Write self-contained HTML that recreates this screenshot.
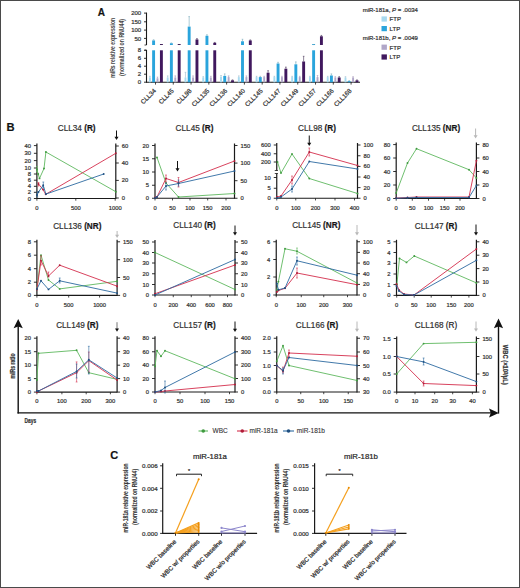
<!DOCTYPE html>
<html><head><meta charset="utf-8"><style>
html,body{margin:0;padding:0;background:#fff;}
body{width:520px;height:588px;overflow:hidden;}
svg{display:block;}
text{font-family:"Liberation Sans", sans-serif;stroke:#333;stroke-width:0.22px;}
</style></head><body>
<svg width="520" height="588" viewBox="0 0 520 588">
<rect x="0" y="0" width="520" height="588" fill="#fff"/>
<text x="97.80" y="15.80" font-size="10" text-anchor="start" font-weight="bold" fill="#111" >A</text>
<text x="0" y="0" font-size="7.0" font-weight="bold" fill="#444" style="stroke-width:0" text-anchor="middle" textLength="60" lengthAdjust="spacingAndGlyphs" transform="translate(114.6,47.8) rotate(-90)">miRs relative expression</text>
<text x="0" y="0" font-size="7.0" font-weight="bold" fill="#444" style="stroke-width:0" text-anchor="middle" textLength="57" lengthAdjust="spacingAndGlyphs" transform="translate(124.4,47.4) rotate(-90)">(normalized on RNU44)</text>
<line x1="146.50" y1="12.60" x2="146.50" y2="45.00" stroke="#1a1a1a" stroke-width="1.1" />
<line x1="146.50" y1="50.00" x2="146.50" y2="82.80" stroke="#1a1a1a" stroke-width="1.1" />
<line x1="144.50" y1="45.00" x2="146.50" y2="45.00" stroke="#1a1a1a" stroke-width="0.8" />
<line x1="144.50" y1="50.00" x2="146.50" y2="50.00" stroke="#1a1a1a" stroke-width="0.8" />
<line x1="144.00" y1="13.10" x2="146.50" y2="13.10" stroke="#1a1a1a" stroke-width="0.9" />
<text x="141.20" y="15.20" font-size="6.0" text-anchor="end" font-weight="normal" fill="#333" >200</text>
<line x1="144.00" y1="21.80" x2="146.50" y2="21.80" stroke="#1a1a1a" stroke-width="0.9" />
<text x="141.20" y="23.90" font-size="6.0" text-anchor="end" font-weight="normal" fill="#333" >150</text>
<line x1="144.00" y1="30.10" x2="146.50" y2="30.10" stroke="#1a1a1a" stroke-width="0.9" />
<text x="141.20" y="32.20" font-size="6.0" text-anchor="end" font-weight="normal" fill="#333" >100</text>
<line x1="144.00" y1="38.40" x2="146.50" y2="38.40" stroke="#1a1a1a" stroke-width="0.9" />
<text x="141.20" y="40.50" font-size="6.0" text-anchor="end" font-weight="normal" fill="#333" >50</text>
<line x1="144.00" y1="50.30" x2="146.50" y2="50.30" stroke="#1a1a1a" stroke-width="0.9" />
<text x="141.20" y="52.40" font-size="6.0" text-anchor="end" font-weight="normal" fill="#333" >8</text>
<line x1="144.00" y1="58.30" x2="146.50" y2="58.30" stroke="#1a1a1a" stroke-width="0.9" />
<text x="141.20" y="60.40" font-size="6.0" text-anchor="end" font-weight="normal" fill="#333" >6</text>
<line x1="144.00" y1="66.20" x2="146.50" y2="66.20" stroke="#1a1a1a" stroke-width="0.9" />
<text x="141.20" y="68.30" font-size="6.0" text-anchor="end" font-weight="normal" fill="#333" >4</text>
<line x1="144.00" y1="74.20" x2="146.50" y2="74.20" stroke="#1a1a1a" stroke-width="0.9" />
<text x="141.20" y="76.30" font-size="6.0" text-anchor="end" font-weight="normal" fill="#333" >2</text>
<line x1="144.00" y1="82.20" x2="146.50" y2="82.20" stroke="#1a1a1a" stroke-width="0.9" />
<text x="141.20" y="84.30" font-size="6.0" text-anchor="end" font-weight="normal" fill="#333" >0</text>
<line x1="146.50" y1="82.30" x2="360.00" y2="82.30" stroke="#1a1a1a" stroke-width="1.1" />
<rect x="148.95" y="77.50" width="1.90" height="4.80" fill="#a8daf0"/>
<line x1="149.90" y1="77.50" x2="149.90" y2="76.30" stroke="#9bc" stroke-width="0.6" />
<line x1="149.10" y1="76.30" x2="150.70" y2="76.30" stroke="#9bc" stroke-width="0.6" />
<rect x="152.15" y="50.30" width="2.90" height="32.00" fill="#2aa4dc"/>
<rect x="152.15" y="40.43" width="2.90" height="4.57" fill="#2aa4dc"/>
<line x1="153.60" y1="40.43" x2="153.60" y2="39.77" stroke="#7ab" stroke-width="0.6" />
<line x1="152.80" y1="39.77" x2="154.40" y2="39.77" stroke="#7ab" stroke-width="0.6" />
<rect x="156.55" y="78.30" width="1.90" height="4.00" fill="#b0a6c8"/>
<line x1="157.50" y1="78.30" x2="157.50" y2="77.10" stroke="#a9b" stroke-width="0.6" />
<line x1="156.70" y1="77.10" x2="158.30" y2="77.10" stroke="#a9b" stroke-width="0.6" />
<rect x="159.95" y="50.30" width="2.90" height="32.00" fill="#40185e"/>
<rect x="159.95" y="44.00" width="2.90" height="1.00" fill="#40185e"/>
<line x1="161.40" y1="44.00" x2="161.40" y2="44.52" stroke="#435" stroke-width="0.6" />
<line x1="160.60" y1="44.52" x2="162.20" y2="44.52" stroke="#435" stroke-width="0.6" />
<line x1="155.50" y1="82.30" x2="155.50" y2="84.60" stroke="#1a1a1a" stroke-width="0.8" />
<text x="0" y="0" font-size="6.3" fill="#333" text-anchor="end" transform="translate(156.50,91.30) rotate(-45)">CLL34</text>
<rect x="166.73" y="77.50" width="1.90" height="4.80" fill="#a8daf0"/>
<line x1="167.68" y1="77.50" x2="167.68" y2="75.90" stroke="#9bc" stroke-width="0.6" />
<line x1="166.88" y1="75.90" x2="168.48" y2="75.90" stroke="#9bc" stroke-width="0.6" />
<rect x="169.93" y="50.30" width="2.90" height="32.00" fill="#2aa4dc"/>
<rect x="169.93" y="43.27" width="2.90" height="1.73" fill="#2aa4dc"/>
<line x1="171.38" y1="43.27" x2="171.38" y2="42.93" stroke="#7ab" stroke-width="0.6" />
<line x1="170.58" y1="42.93" x2="172.18" y2="42.93" stroke="#7ab" stroke-width="0.6" />
<rect x="174.33" y="77.50" width="1.90" height="4.80" fill="#b0a6c8"/>
<line x1="175.28" y1="77.50" x2="175.28" y2="75.90" stroke="#a9b" stroke-width="0.6" />
<line x1="174.48" y1="75.90" x2="176.08" y2="75.90" stroke="#a9b" stroke-width="0.6" />
<rect x="177.73" y="50.30" width="2.90" height="32.00" fill="#40185e"/>
<rect x="177.73" y="44.00" width="2.90" height="1.00" fill="#40185e"/>
<line x1="179.18" y1="44.00" x2="179.18" y2="44.52" stroke="#435" stroke-width="0.6" />
<line x1="178.38" y1="44.52" x2="179.98" y2="44.52" stroke="#435" stroke-width="0.6" />
<line x1="173.28" y1="82.30" x2="173.28" y2="84.60" stroke="#1a1a1a" stroke-width="0.8" />
<text x="0" y="0" font-size="6.3" fill="#333" text-anchor="end" transform="translate(174.28,91.30) rotate(-45)">CLL45</text>
<rect x="184.51" y="77.50" width="1.90" height="4.80" fill="#a8daf0"/>
<line x1="185.46" y1="77.50" x2="185.46" y2="72.30" stroke="#9bc" stroke-width="0.6" />
<line x1="184.66" y1="72.30" x2="186.26" y2="72.30" stroke="#9bc" stroke-width="0.6" />
<rect x="187.71" y="50.30" width="2.90" height="32.00" fill="#2aa4dc"/>
<rect x="187.71" y="26.60" width="2.90" height="18.40" fill="#2aa4dc"/>
<line x1="189.16" y1="26.60" x2="189.16" y2="16.60" stroke="#7ab" stroke-width="0.6" />
<line x1="188.36" y1="16.60" x2="189.96" y2="16.60" stroke="#7ab" stroke-width="0.6" />
<rect x="192.11" y="77.50" width="1.90" height="4.80" fill="#b0a6c8"/>
<line x1="193.06" y1="77.50" x2="193.06" y2="75.90" stroke="#a9b" stroke-width="0.6" />
<line x1="192.26" y1="75.90" x2="193.86" y2="75.90" stroke="#a9b" stroke-width="0.6" />
<rect x="195.51" y="50.30" width="2.90" height="32.00" fill="#40185e"/>
<rect x="195.51" y="39.43" width="2.90" height="5.57" fill="#40185e"/>
<line x1="196.96" y1="39.43" x2="196.96" y2="38.60" stroke="#435" stroke-width="0.6" />
<line x1="196.16" y1="38.60" x2="197.76" y2="38.60" stroke="#435" stroke-width="0.6" />
<line x1="191.06" y1="82.30" x2="191.06" y2="84.60" stroke="#1a1a1a" stroke-width="0.8" />
<text x="0" y="0" font-size="6.3" fill="#333" text-anchor="end" transform="translate(192.06,91.30) rotate(-45)">CLL98</text>
<rect x="202.29" y="77.50" width="1.90" height="4.80" fill="#a8daf0"/>
<line x1="203.24" y1="77.50" x2="203.24" y2="76.70" stroke="#9bc" stroke-width="0.6" />
<line x1="202.44" y1="76.70" x2="204.04" y2="76.70" stroke="#9bc" stroke-width="0.6" />
<rect x="205.49" y="50.30" width="2.90" height="32.00" fill="#2aa4dc"/>
<rect x="205.49" y="35.77" width="2.90" height="9.23" fill="#2aa4dc"/>
<line x1="206.94" y1="35.77" x2="206.94" y2="34.77" stroke="#7ab" stroke-width="0.6" />
<line x1="206.14" y1="34.77" x2="207.74" y2="34.77" stroke="#7ab" stroke-width="0.6" />
<rect x="209.89" y="77.50" width="1.90" height="4.80" fill="#b0a6c8"/>
<line x1="210.84" y1="77.50" x2="210.84" y2="76.30" stroke="#a9b" stroke-width="0.6" />
<line x1="210.04" y1="76.30" x2="211.64" y2="76.30" stroke="#a9b" stroke-width="0.6" />
<rect x="213.29" y="50.30" width="2.90" height="32.00" fill="#40185e"/>
<rect x="213.29" y="42.77" width="2.90" height="2.23" fill="#40185e"/>
<line x1="214.74" y1="42.77" x2="214.74" y2="42.43" stroke="#435" stroke-width="0.6" />
<line x1="213.94" y1="42.43" x2="215.54" y2="42.43" stroke="#435" stroke-width="0.6" />
<line x1="208.84" y1="82.30" x2="208.84" y2="84.60" stroke="#1a1a1a" stroke-width="0.8" />
<text x="0" y="0" font-size="6.3" fill="#333" text-anchor="end" transform="translate(209.84,91.30) rotate(-45)">CLL135</text>
<rect x="220.07" y="76.70" width="1.90" height="5.60" fill="#a8daf0"/>
<line x1="221.02" y1="76.70" x2="221.02" y2="75.50" stroke="#9bc" stroke-width="0.6" />
<line x1="220.22" y1="75.50" x2="221.82" y2="75.50" stroke="#9bc" stroke-width="0.6" />
<rect x="223.27" y="75.90" width="2.90" height="6.40" fill="#2aa4dc"/>
<line x1="224.72" y1="75.90" x2="224.72" y2="73.90" stroke="#7ab" stroke-width="0.6" />
<line x1="223.92" y1="73.90" x2="225.52" y2="73.90" stroke="#7ab" stroke-width="0.6" />
<rect x="227.67" y="77.10" width="1.90" height="5.20" fill="#b0a6c8"/>
<line x1="228.62" y1="77.10" x2="228.62" y2="75.90" stroke="#a9b" stroke-width="0.6" />
<line x1="227.82" y1="75.90" x2="229.42" y2="75.90" stroke="#a9b" stroke-width="0.6" />
<rect x="231.07" y="80.30" width="2.90" height="2.00" fill="#40185e"/>
<line x1="232.52" y1="80.30" x2="232.52" y2="79.90" stroke="#435" stroke-width="0.6" />
<line x1="231.72" y1="79.90" x2="233.32" y2="79.90" stroke="#435" stroke-width="0.6" />
<line x1="226.62" y1="82.30" x2="226.62" y2="84.60" stroke="#1a1a1a" stroke-width="0.8" />
<text x="0" y="0" font-size="6.3" fill="#333" text-anchor="end" transform="translate(227.62,91.30) rotate(-45)">CLL136</text>
<rect x="237.85" y="77.10" width="1.90" height="5.20" fill="#a8daf0"/>
<line x1="238.80" y1="77.10" x2="238.80" y2="75.90" stroke="#9bc" stroke-width="0.6" />
<line x1="238.00" y1="75.90" x2="239.60" y2="75.90" stroke="#9bc" stroke-width="0.6" />
<rect x="241.05" y="50.30" width="2.90" height="32.00" fill="#2aa4dc"/>
<rect x="241.05" y="41.27" width="2.90" height="3.73" fill="#2aa4dc"/>
<line x1="242.50" y1="41.27" x2="242.50" y2="39.27" stroke="#7ab" stroke-width="0.6" />
<line x1="241.70" y1="39.27" x2="243.30" y2="39.27" stroke="#7ab" stroke-width="0.6" />
<rect x="245.45" y="77.10" width="1.90" height="5.20" fill="#b0a6c8"/>
<line x1="246.40" y1="77.10" x2="246.40" y2="75.90" stroke="#a9b" stroke-width="0.6" />
<line x1="245.60" y1="75.90" x2="247.20" y2="75.90" stroke="#a9b" stroke-width="0.6" />
<rect x="248.85" y="50.30" width="2.90" height="32.00" fill="#40185e"/>
<rect x="248.85" y="40.43" width="2.90" height="4.57" fill="#40185e"/>
<line x1="250.30" y1="40.43" x2="250.30" y2="39.93" stroke="#435" stroke-width="0.6" />
<line x1="249.50" y1="39.93" x2="251.10" y2="39.93" stroke="#435" stroke-width="0.6" />
<line x1="244.40" y1="82.30" x2="244.40" y2="84.60" stroke="#1a1a1a" stroke-width="0.8" />
<text x="0" y="0" font-size="6.3" fill="#333" text-anchor="end" transform="translate(245.40,91.30) rotate(-45)">CLL140</text>
<rect x="255.63" y="77.10" width="1.90" height="5.20" fill="#a8daf0"/>
<line x1="256.58" y1="77.10" x2="256.58" y2="76.30" stroke="#9bc" stroke-width="0.6" />
<line x1="255.78" y1="76.30" x2="257.38" y2="76.30" stroke="#9bc" stroke-width="0.6" />
<rect x="258.83" y="77.10" width="2.90" height="5.20" fill="#2aa4dc"/>
<line x1="260.28" y1="77.10" x2="260.28" y2="76.30" stroke="#7ab" stroke-width="0.6" />
<line x1="259.48" y1="76.30" x2="261.08" y2="76.30" stroke="#7ab" stroke-width="0.6" />
<rect x="263.23" y="77.10" width="1.90" height="5.20" fill="#b0a6c8"/>
<line x1="264.18" y1="77.10" x2="264.18" y2="76.30" stroke="#a9b" stroke-width="0.6" />
<line x1="263.38" y1="76.30" x2="264.98" y2="76.30" stroke="#a9b" stroke-width="0.6" />
<rect x="266.63" y="72.70" width="2.90" height="9.60" fill="#40185e"/>
<line x1="268.08" y1="72.70" x2="268.08" y2="70.70" stroke="#435" stroke-width="0.6" />
<line x1="267.28" y1="70.70" x2="268.88" y2="70.70" stroke="#435" stroke-width="0.6" />
<line x1="262.18" y1="82.30" x2="262.18" y2="84.60" stroke="#1a1a1a" stroke-width="0.8" />
<text x="0" y="0" font-size="6.3" fill="#333" text-anchor="end" transform="translate(263.18,91.30) rotate(-45)">CLL145</text>
<rect x="273.41" y="77.10" width="1.90" height="5.20" fill="#a8daf0"/>
<line x1="274.36" y1="77.10" x2="274.36" y2="76.30" stroke="#9bc" stroke-width="0.6" />
<line x1="273.56" y1="76.30" x2="275.16" y2="76.30" stroke="#9bc" stroke-width="0.6" />
<rect x="276.61" y="63.50" width="2.90" height="18.80" fill="#2aa4dc"/>
<line x1="278.06" y1="63.50" x2="278.06" y2="62.30" stroke="#7ab" stroke-width="0.6" />
<line x1="277.26" y1="62.30" x2="278.86" y2="62.30" stroke="#7ab" stroke-width="0.6" />
<rect x="281.01" y="77.10" width="1.90" height="5.20" fill="#b0a6c8"/>
<line x1="281.96" y1="77.10" x2="281.96" y2="76.30" stroke="#a9b" stroke-width="0.6" />
<line x1="281.16" y1="76.30" x2="282.76" y2="76.30" stroke="#a9b" stroke-width="0.6" />
<rect x="284.41" y="68.70" width="2.90" height="13.60" fill="#40185e"/>
<line x1="285.86" y1="68.70" x2="285.86" y2="67.10" stroke="#435" stroke-width="0.6" />
<line x1="285.06" y1="67.10" x2="286.66" y2="67.10" stroke="#435" stroke-width="0.6" />
<line x1="279.96" y1="82.30" x2="279.96" y2="84.60" stroke="#1a1a1a" stroke-width="0.8" />
<text x="0" y="0" font-size="6.3" fill="#333" text-anchor="end" transform="translate(280.96,91.30) rotate(-45)">CLL147</text>
<rect x="291.19" y="77.10" width="1.90" height="5.20" fill="#a8daf0"/>
<line x1="292.14" y1="77.10" x2="292.14" y2="76.30" stroke="#9bc" stroke-width="0.6" />
<line x1="291.34" y1="76.30" x2="292.94" y2="76.30" stroke="#9bc" stroke-width="0.6" />
<rect x="294.39" y="64.30" width="2.90" height="18.00" fill="#2aa4dc"/>
<line x1="295.84" y1="64.30" x2="295.84" y2="61.90" stroke="#7ab" stroke-width="0.6" />
<line x1="295.04" y1="61.90" x2="296.64" y2="61.90" stroke="#7ab" stroke-width="0.6" />
<rect x="298.79" y="77.10" width="1.90" height="5.20" fill="#b0a6c8"/>
<line x1="299.74" y1="77.10" x2="299.74" y2="76.30" stroke="#a9b" stroke-width="0.6" />
<line x1="298.94" y1="76.30" x2="300.54" y2="76.30" stroke="#a9b" stroke-width="0.6" />
<rect x="302.19" y="61.50" width="2.90" height="20.80" fill="#40185e"/>
<line x1="303.64" y1="61.50" x2="303.64" y2="56.30" stroke="#435" stroke-width="0.6" />
<line x1="302.84" y1="56.30" x2="304.44" y2="56.30" stroke="#435" stroke-width="0.6" />
<line x1="297.74" y1="82.30" x2="297.74" y2="84.60" stroke="#1a1a1a" stroke-width="0.8" />
<text x="0" y="0" font-size="6.3" fill="#333" text-anchor="end" transform="translate(298.74,91.30) rotate(-45)">CLL149</text>
<rect x="308.97" y="77.10" width="1.90" height="5.20" fill="#a8daf0"/>
<line x1="309.92" y1="77.10" x2="309.92" y2="76.30" stroke="#9bc" stroke-width="0.6" />
<line x1="309.12" y1="76.30" x2="310.72" y2="76.30" stroke="#9bc" stroke-width="0.6" />
<rect x="312.17" y="50.30" width="2.90" height="32.00" fill="#2aa4dc"/>
<rect x="312.17" y="44.00" width="2.90" height="1.00" fill="#2aa4dc"/>
<line x1="313.62" y1="44.00" x2="313.62" y2="44.60" stroke="#7ab" stroke-width="0.6" />
<line x1="312.82" y1="44.60" x2="314.42" y2="44.60" stroke="#7ab" stroke-width="0.6" />
<rect x="316.57" y="77.10" width="1.90" height="5.20" fill="#b0a6c8"/>
<line x1="317.52" y1="77.10" x2="317.52" y2="75.50" stroke="#a9b" stroke-width="0.6" />
<line x1="316.72" y1="75.50" x2="318.32" y2="75.50" stroke="#a9b" stroke-width="0.6" />
<rect x="319.97" y="50.30" width="2.90" height="32.00" fill="#40185e"/>
<rect x="319.97" y="36.27" width="2.90" height="8.73" fill="#40185e"/>
<line x1="321.42" y1="36.27" x2="321.42" y2="35.43" stroke="#435" stroke-width="0.6" />
<line x1="320.62" y1="35.43" x2="322.22" y2="35.43" stroke="#435" stroke-width="0.6" />
<line x1="315.52" y1="82.30" x2="315.52" y2="84.60" stroke="#1a1a1a" stroke-width="0.8" />
<text x="0" y="0" font-size="6.3" fill="#333" text-anchor="end" transform="translate(316.52,91.30) rotate(-45)">CLL157</text>
<rect x="326.75" y="77.10" width="1.90" height="5.20" fill="#a8daf0"/>
<line x1="327.70" y1="77.10" x2="327.70" y2="76.30" stroke="#9bc" stroke-width="0.6" />
<line x1="326.90" y1="76.30" x2="328.50" y2="76.30" stroke="#9bc" stroke-width="0.6" />
<rect x="329.95" y="75.50" width="2.90" height="6.80" fill="#2aa4dc"/>
<line x1="331.40" y1="75.50" x2="331.40" y2="73.90" stroke="#7ab" stroke-width="0.6" />
<line x1="330.60" y1="73.90" x2="332.20" y2="73.90" stroke="#7ab" stroke-width="0.6" />
<rect x="334.35" y="77.50" width="1.90" height="4.80" fill="#b0a6c8"/>
<line x1="335.30" y1="77.50" x2="335.30" y2="76.70" stroke="#a9b" stroke-width="0.6" />
<line x1="334.50" y1="76.70" x2="336.10" y2="76.70" stroke="#a9b" stroke-width="0.6" />
<rect x="337.75" y="77.50" width="2.90" height="4.80" fill="#40185e"/>
<line x1="339.20" y1="77.50" x2="339.20" y2="76.70" stroke="#435" stroke-width="0.6" />
<line x1="338.40" y1="76.70" x2="340.00" y2="76.70" stroke="#435" stroke-width="0.6" />
<line x1="333.30" y1="82.30" x2="333.30" y2="84.60" stroke="#1a1a1a" stroke-width="0.8" />
<text x="0" y="0" font-size="6.3" fill="#333" text-anchor="end" transform="translate(334.30,91.30) rotate(-45)">CLL166</text>
<rect x="344.53" y="77.50" width="1.90" height="4.80" fill="#a8daf0"/>
<line x1="345.48" y1="77.50" x2="345.48" y2="76.70" stroke="#9bc" stroke-width="0.6" />
<line x1="344.68" y1="76.70" x2="346.28" y2="76.70" stroke="#9bc" stroke-width="0.6" />
<rect x="347.73" y="81.10" width="2.90" height="1.20" fill="#2aa4dc"/>
<line x1="349.18" y1="81.10" x2="349.18" y2="80.70" stroke="#7ab" stroke-width="0.6" />
<line x1="348.38" y1="80.70" x2="349.98" y2="80.70" stroke="#7ab" stroke-width="0.6" />
<rect x="352.13" y="77.50" width="1.90" height="4.80" fill="#b0a6c8"/>
<line x1="353.08" y1="77.50" x2="353.08" y2="76.70" stroke="#a9b" stroke-width="0.6" />
<line x1="352.28" y1="76.70" x2="353.88" y2="76.70" stroke="#a9b" stroke-width="0.6" />
<rect x="355.53" y="80.30" width="2.90" height="2.00" fill="#40185e"/>
<line x1="356.98" y1="80.30" x2="356.98" y2="79.90" stroke="#435" stroke-width="0.6" />
<line x1="356.18" y1="79.90" x2="357.78" y2="79.90" stroke="#435" stroke-width="0.6" />
<line x1="351.08" y1="82.30" x2="351.08" y2="84.60" stroke="#1a1a1a" stroke-width="0.8" />
<text x="0" y="0" font-size="6.3" fill="#333" text-anchor="end" transform="translate(352.08,91.30) rotate(-45)">CLL168</text>
<text x="362.70" y="12.00" font-size="6.0" text-anchor="start" font-weight="normal" fill="#333" >miR-181a, <tspan font-style="italic">P</tspan> = .0034</text>
<rect x="381.50" y="16.40" width="5.40" height="5.20" fill="#a8daf0"/>
<text x="389.60" y="21.30" font-size="6.0" text-anchor="start" font-weight="normal" fill="#333" >FTP</text>
<rect x="381.50" y="26.00" width="5.40" height="5.20" fill="#2aa4dc"/>
<text x="389.60" y="30.90" font-size="6.0" text-anchor="start" font-weight="normal" fill="#333" >LTP</text>
<text x="362.70" y="40.30" font-size="6.0" text-anchor="start" font-weight="normal" fill="#333" >miR-181b, <tspan font-style="italic">P</tspan> = .0049</text>
<rect x="381.50" y="44.60" width="5.40" height="5.20" fill="#b0a6c8"/>
<text x="389.60" y="49.50" font-size="6.0" text-anchor="start" font-weight="normal" fill="#333" >FTP</text>
<rect x="381.50" y="54.40" width="5.40" height="5.20" fill="#40185e"/>
<text x="389.60" y="59.30" font-size="6.0" text-anchor="start" font-weight="normal" fill="#333" >LTP</text>
<text x="6.60" y="131.30" font-size="11.2" text-anchor="start" font-weight="bold" fill="#111" >B</text>
<text x="76.70" y="130.80" font-size="8.2" text-anchor="middle" fill="#333" style="stroke-width:0.2px">CLL34 <tspan font-weight="bold" fill="#111">(R)</tspan></text>
<line x1="36.90" y1="143.60" x2="36.90" y2="199.00" stroke="#1a1a1a" stroke-width="1.2" />
<line x1="115.80" y1="143.60" x2="115.80" y2="199.00" stroke="#1a1a1a" stroke-width="1.2" />
<line x1="36.90" y1="198.50" x2="115.80" y2="198.50" stroke="#1a1a1a" stroke-width="1.2" />
<line x1="33.90" y1="145.60" x2="36.90" y2="145.60" stroke="#1a1a1a" stroke-width="0.9" />
<text x="30.90" y="147.65" font-size="5.8" text-anchor="end" font-weight="normal" fill="#333" >40</text>
<line x1="33.90" y1="153.30" x2="36.90" y2="153.30" stroke="#1a1a1a" stroke-width="0.9" />
<text x="30.90" y="155.35" font-size="5.8" text-anchor="end" font-weight="normal" fill="#333" >30</text>
<line x1="33.90" y1="160.60" x2="36.90" y2="160.60" stroke="#1a1a1a" stroke-width="0.9" />
<text x="30.90" y="162.65" font-size="5.8" text-anchor="end" font-weight="normal" fill="#333" >20</text>
<line x1="33.90" y1="168.00" x2="36.90" y2="168.00" stroke="#1a1a1a" stroke-width="0.9" />
<text x="30.90" y="170.05" font-size="5.8" text-anchor="end" font-weight="normal" fill="#333" >10</text>
<line x1="33.90" y1="174.00" x2="36.90" y2="174.00" stroke="#1a1a1a" stroke-width="0.9" />
<text x="30.90" y="176.05" font-size="5.8" text-anchor="end" font-weight="normal" fill="#333" >8</text>
<line x1="33.90" y1="180.20" x2="36.90" y2="180.20" stroke="#1a1a1a" stroke-width="0.9" />
<text x="30.90" y="182.25" font-size="5.8" text-anchor="end" font-weight="normal" fill="#333" >6</text>
<line x1="33.90" y1="186.30" x2="36.90" y2="186.30" stroke="#1a1a1a" stroke-width="0.9" />
<text x="30.90" y="188.35" font-size="5.8" text-anchor="end" font-weight="normal" fill="#333" >4</text>
<line x1="33.90" y1="192.30" x2="36.90" y2="192.30" stroke="#1a1a1a" stroke-width="0.9" />
<text x="30.90" y="194.35" font-size="5.8" text-anchor="end" font-weight="normal" fill="#333" >2</text>
<line x1="33.90" y1="198.50" x2="36.90" y2="198.50" stroke="#1a1a1a" stroke-width="0.9" />
<text x="30.90" y="200.55" font-size="5.8" text-anchor="end" font-weight="normal" fill="#333" >0</text>
<line x1="115.80" y1="146.00" x2="118.80" y2="146.00" stroke="#1a1a1a" stroke-width="0.9" />
<text x="121.80" y="148.05" font-size="5.8" text-anchor="start" font-weight="normal" fill="#333" >60</text>
<line x1="115.80" y1="163.00" x2="118.80" y2="163.00" stroke="#1a1a1a" stroke-width="0.9" />
<text x="121.80" y="165.05" font-size="5.8" text-anchor="start" font-weight="normal" fill="#333" >40</text>
<line x1="115.80" y1="180.40" x2="118.80" y2="180.40" stroke="#1a1a1a" stroke-width="0.9" />
<text x="121.80" y="182.45" font-size="5.8" text-anchor="start" font-weight="normal" fill="#333" >20</text>
<line x1="115.80" y1="198.00" x2="118.80" y2="198.00" stroke="#1a1a1a" stroke-width="0.9" />
<text x="121.80" y="200.05" font-size="5.8" text-anchor="start" font-weight="normal" fill="#333" >0</text>
<line x1="36.90" y1="198.50" x2="36.90" y2="200.70" stroke="#1a1a1a" stroke-width="0.8" />
<text x="36.90" y="209.75" font-size="5.8" text-anchor="middle" font-weight="normal" fill="#333" >0</text>
<line x1="75.80" y1="198.50" x2="75.80" y2="200.70" stroke="#1a1a1a" stroke-width="0.8" />
<text x="75.80" y="209.75" font-size="5.8" text-anchor="middle" font-weight="normal" fill="#333" >500</text>
<line x1="115.20" y1="198.50" x2="115.20" y2="200.70" stroke="#1a1a1a" stroke-width="0.8" />
<text x="115.20" y="209.75" font-size="5.8" text-anchor="middle" font-weight="normal" fill="#333" >1000</text>
<line x1="116.50" y1="130.50" x2="116.50" y2="137.50" stroke="#111" stroke-width="1.0" />
<path d="M114.50,136.80 L118.50,136.80 L116.50,140.00 Z" fill="#111"/>
<line x1="36.90" y1="166.50" x2="36.90" y2="171.50" stroke="#5fb85f" stroke-width="0.6" />
<line x1="36.00" y1="166.50" x2="37.80" y2="166.50" stroke="#5fb85f" stroke-width="0.6" />
<line x1="36.00" y1="171.50" x2="37.80" y2="171.50" stroke="#5fb85f" stroke-width="0.6" />
<polyline points="36.90,169.30 38.20,174.00 39.50,178.40 44.00,168.50 45.90,152.00 115.80,191.70" fill="none" stroke="#5fb85f" stroke-width="0.9"/>
<circle cx="36.90" cy="169.30" r="0.95" fill="#3f9a3f"/>
<circle cx="38.20" cy="174.00" r="0.95" fill="#3f9a3f"/>
<circle cx="39.50" cy="178.40" r="0.95" fill="#3f9a3f"/>
<circle cx="44.00" cy="168.50" r="0.95" fill="#3f9a3f"/>
<circle cx="45.90" cy="152.00" r="0.95" fill="#3f9a3f"/>
<circle cx="115.80" cy="191.70" r="0.95" fill="#3f9a3f"/>
<line x1="38.50" y1="182.50" x2="38.50" y2="186.00" stroke="#d42e4c" stroke-width="0.6" />
<line x1="37.60" y1="182.50" x2="39.40" y2="182.50" stroke="#d42e4c" stroke-width="0.6" />
<line x1="37.60" y1="186.00" x2="39.40" y2="186.00" stroke="#d42e4c" stroke-width="0.6" />
<polyline points="38.50,184.00 43.00,189.50 45.70,194.30 115.80,153.30" fill="none" stroke="#d42e4c" stroke-width="0.9"/>
<circle cx="38.50" cy="184.00" r="0.95" fill="#b01c38"/>
<circle cx="43.00" cy="189.50" r="0.95" fill="#b01c38"/>
<circle cx="45.70" cy="194.30" r="0.95" fill="#b01c38"/>
<circle cx="115.80" cy="153.30" r="0.95" fill="#b01c38"/>
<line x1="43.30" y1="182.00" x2="43.30" y2="188.00" stroke="#2c6aa0" stroke-width="0.6" />
<line x1="42.40" y1="182.00" x2="44.20" y2="182.00" stroke="#2c6aa0" stroke-width="0.6" />
<line x1="42.40" y1="188.00" x2="44.20" y2="188.00" stroke="#2c6aa0" stroke-width="0.6" />
<line x1="37.30" y1="192.00" x2="37.30" y2="197.00" stroke="#2c6aa0" stroke-width="0.6" />
<line x1="36.40" y1="192.00" x2="38.20" y2="192.00" stroke="#2c6aa0" stroke-width="0.6" />
<line x1="36.40" y1="197.00" x2="38.20" y2="197.00" stroke="#2c6aa0" stroke-width="0.6" />
<polyline points="37.00,195.00 38.50,192.00 43.20,185.30 45.90,194.10 103.70,174.00" fill="none" stroke="#2c6aa0" stroke-width="0.9"/>
<circle cx="37.00" cy="195.00" r="0.95" fill="#1f4f80"/>
<circle cx="38.50" cy="192.00" r="0.95" fill="#1f4f80"/>
<circle cx="43.20" cy="185.30" r="0.95" fill="#1f4f80"/>
<circle cx="45.90" cy="194.10" r="0.95" fill="#1f4f80"/>
<circle cx="103.70" cy="174.00" r="0.95" fill="#1f4f80"/>
<text x="194.50" y="130.80" font-size="8.2" text-anchor="middle" fill="#333" style="stroke-width:0.2px">CLL45 <tspan font-weight="bold" fill="#111">(R)</tspan></text>
<line x1="155.00" y1="143.50" x2="155.00" y2="198.75" stroke="#1a1a1a" stroke-width="1.2" />
<line x1="234.50" y1="143.50" x2="234.50" y2="198.75" stroke="#1a1a1a" stroke-width="1.2" />
<line x1="155.00" y1="198.25" x2="234.50" y2="198.25" stroke="#1a1a1a" stroke-width="1.2" />
<line x1="152.00" y1="145.50" x2="155.00" y2="145.50" stroke="#1a1a1a" stroke-width="0.9" />
<text x="149.00" y="147.55" font-size="5.8" text-anchor="end" font-weight="normal" fill="#333" >20</text>
<line x1="152.00" y1="158.75" x2="155.00" y2="158.75" stroke="#1a1a1a" stroke-width="0.9" />
<text x="149.00" y="160.80" font-size="5.8" text-anchor="end" font-weight="normal" fill="#333" >15</text>
<line x1="152.00" y1="172.00" x2="155.00" y2="172.00" stroke="#1a1a1a" stroke-width="0.9" />
<text x="149.00" y="174.05" font-size="5.8" text-anchor="end" font-weight="normal" fill="#333" >10</text>
<line x1="152.00" y1="185.25" x2="155.00" y2="185.25" stroke="#1a1a1a" stroke-width="0.9" />
<text x="149.00" y="187.30" font-size="5.8" text-anchor="end" font-weight="normal" fill="#333" >5</text>
<line x1="152.00" y1="198.25" x2="155.00" y2="198.25" stroke="#1a1a1a" stroke-width="0.9" />
<text x="149.00" y="200.30" font-size="5.8" text-anchor="end" font-weight="normal" fill="#333" >0</text>
<line x1="234.50" y1="145.50" x2="237.50" y2="145.50" stroke="#1a1a1a" stroke-width="0.9" />
<text x="240.50" y="147.55" font-size="5.8" text-anchor="start" font-weight="normal" fill="#333" >150</text>
<line x1="234.50" y1="163.10" x2="237.50" y2="163.10" stroke="#1a1a1a" stroke-width="0.9" />
<text x="240.50" y="165.15" font-size="5.8" text-anchor="start" font-weight="normal" fill="#333" >100</text>
<line x1="234.50" y1="180.70" x2="237.50" y2="180.70" stroke="#1a1a1a" stroke-width="0.9" />
<text x="240.50" y="182.75" font-size="5.8" text-anchor="start" font-weight="normal" fill="#333" >50</text>
<line x1="234.50" y1="198.25" x2="237.50" y2="198.25" stroke="#1a1a1a" stroke-width="0.9" />
<text x="240.50" y="200.30" font-size="5.8" text-anchor="start" font-weight="normal" fill="#333" >0</text>
<line x1="155.00" y1="198.25" x2="155.00" y2="200.45" stroke="#1a1a1a" stroke-width="0.8" />
<text x="155.00" y="209.75" font-size="5.8" text-anchor="middle" font-weight="normal" fill="#333" >0</text>
<line x1="172.50" y1="198.25" x2="172.50" y2="200.45" stroke="#1a1a1a" stroke-width="0.8" />
<text x="172.50" y="209.75" font-size="5.8" text-anchor="middle" font-weight="normal" fill="#333" >50</text>
<line x1="190.00" y1="198.25" x2="190.00" y2="200.45" stroke="#1a1a1a" stroke-width="0.8" />
<text x="190.00" y="209.75" font-size="5.8" text-anchor="middle" font-weight="normal" fill="#333" >100</text>
<line x1="207.70" y1="198.25" x2="207.70" y2="200.45" stroke="#1a1a1a" stroke-width="0.8" />
<text x="207.70" y="209.75" font-size="5.8" text-anchor="middle" font-weight="normal" fill="#333" >150</text>
<line x1="226.00" y1="198.25" x2="226.00" y2="200.45" stroke="#1a1a1a" stroke-width="0.8" />
<text x="226.00" y="209.75" font-size="5.8" text-anchor="middle" font-weight="normal" fill="#333" >200</text>
<line x1="177.50" y1="161.00" x2="177.50" y2="169.00" stroke="#111" stroke-width="1.0" />
<path d="M175.50,168.30 L179.50,168.30 L177.50,171.50 Z" fill="#111"/>
<polyline points="157.00,157.50 166.00,183.00 178.50,197.00 234.50,193.50" fill="none" stroke="#5fb85f" stroke-width="0.9"/>
<circle cx="157.00" cy="157.50" r="0.95" fill="#3f9a3f"/>
<circle cx="166.00" cy="183.00" r="0.95" fill="#3f9a3f"/>
<circle cx="178.50" cy="197.00" r="0.95" fill="#3f9a3f"/>
<circle cx="234.50" cy="193.50" r="0.95" fill="#3f9a3f"/>
<line x1="166.00" y1="175.00" x2="166.00" y2="182.00" stroke="#d42e4c" stroke-width="0.6" />
<line x1="165.10" y1="175.00" x2="166.90" y2="175.00" stroke="#d42e4c" stroke-width="0.6" />
<line x1="165.10" y1="182.00" x2="166.90" y2="182.00" stroke="#d42e4c" stroke-width="0.6" />
<line x1="178.50" y1="177.50" x2="178.50" y2="187.00" stroke="#d42e4c" stroke-width="0.6" />
<line x1="177.60" y1="177.50" x2="179.40" y2="177.50" stroke="#d42e4c" stroke-width="0.6" />
<line x1="177.60" y1="187.00" x2="179.40" y2="187.00" stroke="#d42e4c" stroke-width="0.6" />
<polyline points="155.00,197.50 157.00,197.00 166.00,178.50 178.50,182.50 234.50,161.00" fill="none" stroke="#d42e4c" stroke-width="0.9"/>
<circle cx="155.00" cy="197.50" r="0.95" fill="#b01c38"/>
<circle cx="157.00" cy="197.00" r="0.95" fill="#b01c38"/>
<circle cx="166.00" cy="178.50" r="0.95" fill="#b01c38"/>
<circle cx="178.50" cy="182.50" r="0.95" fill="#b01c38"/>
<circle cx="234.50" cy="161.00" r="0.95" fill="#b01c38"/>
<line x1="166.00" y1="183.00" x2="166.00" y2="190.00" stroke="#2c6aa0" stroke-width="0.6" />
<line x1="165.10" y1="183.00" x2="166.90" y2="183.00" stroke="#2c6aa0" stroke-width="0.6" />
<line x1="165.10" y1="190.00" x2="166.90" y2="190.00" stroke="#2c6aa0" stroke-width="0.6" />
<line x1="178.50" y1="180.00" x2="178.50" y2="186.00" stroke="#2c6aa0" stroke-width="0.6" />
<line x1="177.60" y1="180.00" x2="179.40" y2="180.00" stroke="#2c6aa0" stroke-width="0.6" />
<line x1="177.60" y1="186.00" x2="179.40" y2="186.00" stroke="#2c6aa0" stroke-width="0.6" />
<polyline points="155.00,198.00 157.00,197.00 166.00,186.00 178.50,183.50 234.50,171.00" fill="none" stroke="#2c6aa0" stroke-width="0.9"/>
<circle cx="155.00" cy="198.00" r="0.95" fill="#1f4f80"/>
<circle cx="157.00" cy="197.00" r="0.95" fill="#1f4f80"/>
<circle cx="166.00" cy="186.00" r="0.95" fill="#1f4f80"/>
<circle cx="178.50" cy="183.50" r="0.95" fill="#1f4f80"/>
<circle cx="234.50" cy="171.00" r="0.95" fill="#1f4f80"/>
<text x="317.00" y="130.80" font-size="8.2" text-anchor="middle" fill="#333" style="stroke-width:0.2px">CLL98 <tspan font-weight="bold" fill="#111">(R)</tspan></text>
<line x1="276.75" y1="143.00" x2="276.75" y2="170.50" stroke="#1a1a1a" stroke-width="1.2" />
<line x1="276.75" y1="173.50" x2="276.75" y2="198.75" stroke="#1a1a1a" stroke-width="1.2" />
<line x1="274.75" y1="170.50" x2="277.95" y2="170.50" stroke="#1a1a1a" stroke-width="0.8" />
<line x1="274.75" y1="173.50" x2="277.95" y2="173.50" stroke="#1a1a1a" stroke-width="0.8" />
<line x1="357.50" y1="143.00" x2="357.50" y2="198.75" stroke="#1a1a1a" stroke-width="1.2" />
<line x1="276.75" y1="198.25" x2="357.50" y2="198.25" stroke="#1a1a1a" stroke-width="1.2" />
<line x1="273.75" y1="145.00" x2="276.75" y2="145.00" stroke="#1a1a1a" stroke-width="0.9" />
<text x="270.75" y="147.05" font-size="5.8" text-anchor="end" font-weight="normal" fill="#333" >600</text>
<line x1="273.75" y1="153.75" x2="276.75" y2="153.75" stroke="#1a1a1a" stroke-width="0.9" />
<text x="270.75" y="155.80" font-size="5.8" text-anchor="end" font-weight="normal" fill="#333" >400</text>
<line x1="273.75" y1="162.00" x2="276.75" y2="162.00" stroke="#1a1a1a" stroke-width="0.9" />
<text x="270.75" y="164.05" font-size="5.8" text-anchor="end" font-weight="normal" fill="#333" >200</text>
<line x1="273.75" y1="177.50" x2="276.75" y2="177.50" stroke="#1a1a1a" stroke-width="0.9" />
<text x="270.75" y="179.55" font-size="5.8" text-anchor="end" font-weight="normal" fill="#333" >10</text>
<line x1="273.75" y1="188.25" x2="276.75" y2="188.25" stroke="#1a1a1a" stroke-width="0.9" />
<text x="270.75" y="190.30" font-size="5.8" text-anchor="end" font-weight="normal" fill="#333" >5</text>
<line x1="273.75" y1="198.25" x2="276.75" y2="198.25" stroke="#1a1a1a" stroke-width="0.9" />
<text x="270.75" y="200.30" font-size="5.8" text-anchor="end" font-weight="normal" fill="#333" >0</text>
<line x1="357.50" y1="145.00" x2="360.50" y2="145.00" stroke="#1a1a1a" stroke-width="0.9" />
<text x="363.50" y="147.05" font-size="5.8" text-anchor="start" font-weight="normal" fill="#333" >100</text>
<line x1="357.50" y1="155.75" x2="360.50" y2="155.75" stroke="#1a1a1a" stroke-width="0.9" />
<text x="363.50" y="157.80" font-size="5.8" text-anchor="start" font-weight="normal" fill="#333" >80</text>
<line x1="357.50" y1="166.40" x2="360.50" y2="166.40" stroke="#1a1a1a" stroke-width="0.9" />
<text x="363.50" y="168.45" font-size="5.8" text-anchor="start" font-weight="normal" fill="#333" >60</text>
<line x1="357.50" y1="177.00" x2="360.50" y2="177.00" stroke="#1a1a1a" stroke-width="0.9" />
<text x="363.50" y="179.05" font-size="5.8" text-anchor="start" font-weight="normal" fill="#333" >40</text>
<line x1="357.50" y1="187.60" x2="360.50" y2="187.60" stroke="#1a1a1a" stroke-width="0.9" />
<text x="363.50" y="189.65" font-size="5.8" text-anchor="start" font-weight="normal" fill="#333" >20</text>
<line x1="357.50" y1="198.25" x2="360.50" y2="198.25" stroke="#1a1a1a" stroke-width="0.9" />
<text x="363.50" y="200.30" font-size="5.8" text-anchor="start" font-weight="normal" fill="#333" >0</text>
<line x1="276.75" y1="198.25" x2="276.75" y2="200.45" stroke="#1a1a1a" stroke-width="0.8" />
<text x="276.75" y="209.75" font-size="5.8" text-anchor="middle" font-weight="normal" fill="#333" >0</text>
<line x1="295.75" y1="198.25" x2="295.75" y2="200.45" stroke="#1a1a1a" stroke-width="0.8" />
<text x="295.75" y="209.75" font-size="5.8" text-anchor="middle" font-weight="normal" fill="#333" >100</text>
<line x1="315.50" y1="198.25" x2="315.50" y2="200.45" stroke="#1a1a1a" stroke-width="0.8" />
<text x="315.50" y="209.75" font-size="5.8" text-anchor="middle" font-weight="normal" fill="#333" >200</text>
<line x1="335.00" y1="198.25" x2="335.00" y2="200.45" stroke="#1a1a1a" stroke-width="0.8" />
<text x="335.00" y="209.75" font-size="5.8" text-anchor="middle" font-weight="normal" fill="#333" >300</text>
<line x1="354.50" y1="198.25" x2="354.50" y2="200.45" stroke="#1a1a1a" stroke-width="0.8" />
<text x="354.50" y="209.75" font-size="5.8" text-anchor="middle" font-weight="normal" fill="#333" >400</text>
<line x1="309.25" y1="135.50" x2="309.25" y2="143.50" stroke="#111" stroke-width="1.0" />
<path d="M307.25,142.80 L311.25,142.80 L309.25,146.00 Z" fill="#111"/>
<polyline points="277.50,162.00 281.00,173.00 292.00,154.00 309.30,178.50 357.50,193.50" fill="none" stroke="#5fb85f" stroke-width="0.9"/>
<circle cx="277.50" cy="162.00" r="0.95" fill="#3f9a3f"/>
<circle cx="281.00" cy="173.00" r="0.95" fill="#3f9a3f"/>
<circle cx="292.00" cy="154.00" r="0.95" fill="#3f9a3f"/>
<circle cx="309.30" cy="178.50" r="0.95" fill="#3f9a3f"/>
<circle cx="357.50" cy="193.50" r="0.95" fill="#3f9a3f"/>
<line x1="292.00" y1="176.00" x2="292.00" y2="184.00" stroke="#d42e4c" stroke-width="0.6" />
<line x1="291.10" y1="176.00" x2="292.90" y2="176.00" stroke="#d42e4c" stroke-width="0.6" />
<line x1="291.10" y1="184.00" x2="292.90" y2="184.00" stroke="#d42e4c" stroke-width="0.6" />
<line x1="309.30" y1="148.00" x2="309.30" y2="156.00" stroke="#d42e4c" stroke-width="0.6" />
<line x1="308.40" y1="148.00" x2="310.20" y2="148.00" stroke="#d42e4c" stroke-width="0.6" />
<line x1="308.40" y1="156.00" x2="310.20" y2="156.00" stroke="#d42e4c" stroke-width="0.6" />
<polyline points="277.00,197.00 281.00,196.00 292.00,180.00 309.30,152.00 357.50,165.50" fill="none" stroke="#d42e4c" stroke-width="0.9"/>
<circle cx="277.00" cy="197.00" r="0.95" fill="#b01c38"/>
<circle cx="281.00" cy="196.00" r="0.95" fill="#b01c38"/>
<circle cx="292.00" cy="180.00" r="0.95" fill="#b01c38"/>
<circle cx="309.30" cy="152.00" r="0.95" fill="#b01c38"/>
<circle cx="357.50" cy="165.50" r="0.95" fill="#b01c38"/>
<line x1="292.00" y1="186.00" x2="292.00" y2="192.00" stroke="#2c6aa0" stroke-width="0.6" />
<line x1="291.10" y1="186.00" x2="292.90" y2="186.00" stroke="#2c6aa0" stroke-width="0.6" />
<line x1="291.10" y1="192.00" x2="292.90" y2="192.00" stroke="#2c6aa0" stroke-width="0.6" />
<polyline points="277.00,198.00 281.00,197.00 292.00,189.00 309.30,161.50 357.50,169.00" fill="none" stroke="#2c6aa0" stroke-width="0.9"/>
<circle cx="277.00" cy="198.00" r="0.95" fill="#1f4f80"/>
<circle cx="281.00" cy="197.00" r="0.95" fill="#1f4f80"/>
<circle cx="292.00" cy="189.00" r="0.95" fill="#1f4f80"/>
<circle cx="309.30" cy="161.50" r="0.95" fill="#1f4f80"/>
<circle cx="357.50" cy="169.00" r="0.95" fill="#1f4f80"/>
<text x="436.00" y="130.80" font-size="8.2" text-anchor="middle" fill="#333" style="stroke-width:0.2px">CLL135 <tspan font-weight="bold" fill="#111">(NR)</tspan></text>
<line x1="396.20" y1="142.60" x2="396.20" y2="199.00" stroke="#1a1a1a" stroke-width="1.2" />
<line x1="476.40" y1="142.60" x2="476.40" y2="199.00" stroke="#1a1a1a" stroke-width="1.2" />
<line x1="396.20" y1="198.50" x2="476.40" y2="198.50" stroke="#1a1a1a" stroke-width="1.2" />
<line x1="393.20" y1="144.60" x2="396.20" y2="144.60" stroke="#1a1a1a" stroke-width="0.9" />
<text x="390.20" y="146.65" font-size="5.8" text-anchor="end" font-weight="normal" fill="#333" >80</text>
<line x1="393.20" y1="158.00" x2="396.20" y2="158.00" stroke="#1a1a1a" stroke-width="0.9" />
<text x="390.20" y="160.05" font-size="5.8" text-anchor="end" font-weight="normal" fill="#333" >60</text>
<line x1="393.20" y1="171.50" x2="396.20" y2="171.50" stroke="#1a1a1a" stroke-width="0.9" />
<text x="390.20" y="173.55" font-size="5.8" text-anchor="end" font-weight="normal" fill="#333" >40</text>
<line x1="393.20" y1="185.00" x2="396.20" y2="185.00" stroke="#1a1a1a" stroke-width="0.9" />
<text x="390.20" y="187.05" font-size="5.8" text-anchor="end" font-weight="normal" fill="#333" >20</text>
<line x1="393.20" y1="198.50" x2="396.20" y2="198.50" stroke="#1a1a1a" stroke-width="0.9" />
<text x="390.20" y="200.55" font-size="5.8" text-anchor="end" font-weight="normal" fill="#333" >0</text>
<line x1="476.40" y1="144.60" x2="479.40" y2="144.60" stroke="#1a1a1a" stroke-width="0.9" />
<text x="482.40" y="146.65" font-size="5.8" text-anchor="start" font-weight="normal" fill="#333" >80</text>
<line x1="476.40" y1="158.00" x2="479.40" y2="158.00" stroke="#1a1a1a" stroke-width="0.9" />
<text x="482.40" y="160.05" font-size="5.8" text-anchor="start" font-weight="normal" fill="#333" >60</text>
<line x1="476.40" y1="171.50" x2="479.40" y2="171.50" stroke="#1a1a1a" stroke-width="0.9" />
<text x="482.40" y="173.55" font-size="5.8" text-anchor="start" font-weight="normal" fill="#333" >40</text>
<line x1="476.40" y1="185.00" x2="479.40" y2="185.00" stroke="#1a1a1a" stroke-width="0.9" />
<text x="482.40" y="187.05" font-size="5.8" text-anchor="start" font-weight="normal" fill="#333" >20</text>
<line x1="476.40" y1="198.50" x2="479.40" y2="198.50" stroke="#1a1a1a" stroke-width="0.9" />
<text x="482.40" y="200.55" font-size="5.8" text-anchor="start" font-weight="normal" fill="#333" >0</text>
<line x1="396.20" y1="198.50" x2="396.20" y2="200.70" stroke="#1a1a1a" stroke-width="0.8" />
<text x="396.20" y="209.75" font-size="5.8" text-anchor="middle" font-weight="normal" fill="#333" >0</text>
<line x1="412.30" y1="198.50" x2="412.30" y2="200.70" stroke="#1a1a1a" stroke-width="0.8" />
<text x="412.30" y="209.75" font-size="5.8" text-anchor="middle" font-weight="normal" fill="#333" >50</text>
<line x1="428.50" y1="198.50" x2="428.50" y2="200.70" stroke="#1a1a1a" stroke-width="0.8" />
<text x="428.50" y="209.75" font-size="5.8" text-anchor="middle" font-weight="normal" fill="#333" >100</text>
<line x1="444.60" y1="198.50" x2="444.60" y2="200.70" stroke="#1a1a1a" stroke-width="0.8" />
<text x="444.60" y="209.75" font-size="5.8" text-anchor="middle" font-weight="normal" fill="#333" >150</text>
<line x1="460.00" y1="198.50" x2="460.00" y2="200.70" stroke="#1a1a1a" stroke-width="0.8" />
<text x="460.00" y="209.75" font-size="5.8" text-anchor="middle" font-weight="normal" fill="#333" >200</text>
<line x1="475.60" y1="128.50" x2="475.60" y2="136.00" stroke="#b8b8b8" stroke-width="1.0" />
<path d="M473.60,135.30 L477.60,135.30 L475.60,138.50 Z" fill="#b8b8b8"/>
<polyline points="396.20,193.00 407.50,163.00 416.50,148.70 469.00,169.70 476.40,178.00" fill="none" stroke="#5fb85f" stroke-width="0.9"/>
<circle cx="396.20" cy="193.00" r="0.95" fill="#3f9a3f"/>
<circle cx="407.50" cy="163.00" r="0.95" fill="#3f9a3f"/>
<circle cx="416.50" cy="148.70" r="0.95" fill="#3f9a3f"/>
<circle cx="469.00" cy="169.70" r="0.95" fill="#3f9a3f"/>
<circle cx="476.40" cy="178.00" r="0.95" fill="#3f9a3f"/>
<polyline points="396.20,198.00 407.50,197.50 416.50,197.00 469.00,197.00 476.40,160.80" fill="none" stroke="#d42e4c" stroke-width="0.9"/>
<circle cx="396.20" cy="198.00" r="0.95" fill="#b01c38"/>
<circle cx="407.50" cy="197.50" r="0.95" fill="#b01c38"/>
<circle cx="416.50" cy="197.00" r="0.95" fill="#b01c38"/>
<circle cx="469.00" cy="197.00" r="0.95" fill="#b01c38"/>
<circle cx="476.40" cy="160.80" r="0.95" fill="#b01c38"/>
<polyline points="396.20,198.20 407.50,197.80 416.50,197.50 469.00,197.50 476.40,185.50" fill="none" stroke="#2c6aa0" stroke-width="0.9"/>
<circle cx="396.20" cy="198.20" r="0.95" fill="#1f4f80"/>
<circle cx="407.50" cy="197.80" r="0.95" fill="#1f4f80"/>
<circle cx="416.50" cy="197.50" r="0.95" fill="#1f4f80"/>
<circle cx="469.00" cy="197.50" r="0.95" fill="#1f4f80"/>
<circle cx="476.40" cy="185.50" r="0.95" fill="#1f4f80"/>
<text x="77.30" y="229.00" font-size="8.2" text-anchor="middle" fill="#333" style="stroke-width:0.2px">CLL136 <tspan font-weight="bold" fill="#111">(NR)</tspan></text>
<line x1="36.90" y1="239.80" x2="36.90" y2="295.90" stroke="#1a1a1a" stroke-width="1.2" />
<line x1="117.10" y1="239.80" x2="117.10" y2="295.90" stroke="#1a1a1a" stroke-width="1.2" />
<line x1="36.90" y1="295.40" x2="117.10" y2="295.40" stroke="#1a1a1a" stroke-width="1.2" />
<line x1="33.90" y1="241.80" x2="36.90" y2="241.80" stroke="#1a1a1a" stroke-width="0.9" />
<text x="30.90" y="243.85" font-size="5.8" text-anchor="end" font-weight="normal" fill="#333" >8</text>
<line x1="33.90" y1="255.20" x2="36.90" y2="255.20" stroke="#1a1a1a" stroke-width="0.9" />
<text x="30.90" y="257.25" font-size="5.8" text-anchor="end" font-weight="normal" fill="#333" >6</text>
<line x1="33.90" y1="268.70" x2="36.90" y2="268.70" stroke="#1a1a1a" stroke-width="0.9" />
<text x="30.90" y="270.75" font-size="5.8" text-anchor="end" font-weight="normal" fill="#333" >4</text>
<line x1="33.90" y1="282.20" x2="36.90" y2="282.20" stroke="#1a1a1a" stroke-width="0.9" />
<text x="30.90" y="284.25" font-size="5.8" text-anchor="end" font-weight="normal" fill="#333" >2</text>
<line x1="33.90" y1="295.40" x2="36.90" y2="295.40" stroke="#1a1a1a" stroke-width="0.9" />
<text x="30.90" y="297.45" font-size="5.8" text-anchor="end" font-weight="normal" fill="#333" >0</text>
<line x1="117.10" y1="241.80" x2="120.10" y2="241.80" stroke="#1a1a1a" stroke-width="0.9" />
<text x="123.10" y="243.85" font-size="5.8" text-anchor="start" font-weight="normal" fill="#333" >150</text>
<line x1="117.10" y1="259.70" x2="120.10" y2="259.70" stroke="#1a1a1a" stroke-width="0.9" />
<text x="123.10" y="261.75" font-size="5.8" text-anchor="start" font-weight="normal" fill="#333" >100</text>
<line x1="117.10" y1="277.50" x2="120.10" y2="277.50" stroke="#1a1a1a" stroke-width="0.9" />
<text x="123.10" y="279.55" font-size="5.8" text-anchor="start" font-weight="normal" fill="#333" >50</text>
<line x1="117.10" y1="295.40" x2="120.10" y2="295.40" stroke="#1a1a1a" stroke-width="0.9" />
<text x="123.10" y="297.45" font-size="5.8" text-anchor="start" font-weight="normal" fill="#333" >0</text>
<line x1="36.90" y1="295.40" x2="36.90" y2="297.60" stroke="#1a1a1a" stroke-width="0.8" />
<text x="36.90" y="306.85" font-size="5.8" text-anchor="middle" font-weight="normal" fill="#333" >0</text>
<line x1="68.70" y1="295.40" x2="68.70" y2="297.60" stroke="#1a1a1a" stroke-width="0.8" />
<text x="68.70" y="306.85" font-size="5.8" text-anchor="middle" font-weight="normal" fill="#333" >500</text>
<line x1="99.60" y1="295.40" x2="99.60" y2="297.60" stroke="#1a1a1a" stroke-width="0.8" />
<text x="99.60" y="306.85" font-size="5.8" text-anchor="middle" font-weight="normal" fill="#333" >1000</text>
<line x1="117.10" y1="231.00" x2="117.10" y2="235.50" stroke="#b8b8b8" stroke-width="1.0" />
<path d="M115.10,234.80 L119.10,234.80 L117.10,238.00 Z" fill="#b8b8b8"/>
<polyline points="36.90,289.00 41.00,255.20 48.50,280.00 59.70,288.90 117.10,281.30" fill="none" stroke="#5fb85f" stroke-width="0.9"/>
<circle cx="36.90" cy="289.00" r="0.95" fill="#3f9a3f"/>
<circle cx="41.00" cy="255.20" r="0.95" fill="#3f9a3f"/>
<circle cx="48.50" cy="280.00" r="0.95" fill="#3f9a3f"/>
<circle cx="59.70" cy="288.90" r="0.95" fill="#3f9a3f"/>
<circle cx="117.10" cy="281.30" r="0.95" fill="#3f9a3f"/>
<line x1="41.00" y1="256.00" x2="41.00" y2="265.00" stroke="#d42e4c" stroke-width="0.6" />
<line x1="40.10" y1="256.00" x2="41.90" y2="256.00" stroke="#d42e4c" stroke-width="0.6" />
<line x1="40.10" y1="265.00" x2="41.90" y2="265.00" stroke="#d42e4c" stroke-width="0.6" />
<line x1="48.50" y1="272.00" x2="48.50" y2="277.00" stroke="#d42e4c" stroke-width="0.6" />
<line x1="47.60" y1="272.00" x2="49.40" y2="272.00" stroke="#d42e4c" stroke-width="0.6" />
<line x1="47.60" y1="277.00" x2="49.40" y2="277.00" stroke="#d42e4c" stroke-width="0.6" />
<polyline points="36.90,289.50 41.00,260.60 48.50,276.00 59.70,265.20 117.10,286.20" fill="none" stroke="#d42e4c" stroke-width="0.9"/>
<circle cx="36.90" cy="289.50" r="0.95" fill="#b01c38"/>
<circle cx="41.00" cy="260.60" r="0.95" fill="#b01c38"/>
<circle cx="48.50" cy="276.00" r="0.95" fill="#b01c38"/>
<circle cx="59.70" cy="265.20" r="0.95" fill="#b01c38"/>
<circle cx="117.10" cy="286.20" r="0.95" fill="#b01c38"/>
<line x1="59.70" y1="278.00" x2="59.70" y2="283.00" stroke="#2c6aa0" stroke-width="0.6" />
<line x1="58.80" y1="278.00" x2="60.60" y2="278.00" stroke="#2c6aa0" stroke-width="0.6" />
<line x1="58.80" y1="283.00" x2="60.60" y2="283.00" stroke="#2c6aa0" stroke-width="0.6" />
<polyline points="36.90,289.00 41.00,280.80 48.50,289.40 59.70,280.80 117.10,293.10" fill="none" stroke="#2c6aa0" stroke-width="0.9"/>
<circle cx="36.90" cy="289.00" r="0.95" fill="#1f4f80"/>
<circle cx="41.00" cy="280.80" r="0.95" fill="#1f4f80"/>
<circle cx="48.50" cy="289.40" r="0.95" fill="#1f4f80"/>
<circle cx="59.70" cy="280.80" r="0.95" fill="#1f4f80"/>
<circle cx="117.10" cy="293.10" r="0.95" fill="#1f4f80"/>
<text x="194.50" y="228.30" font-size="8.2" text-anchor="middle" fill="#333" style="stroke-width:0.2px">CLL140 <tspan font-weight="bold" fill="#111">(R)</tspan></text>
<line x1="155.00" y1="240.00" x2="155.00" y2="295.50" stroke="#1a1a1a" stroke-width="1.2" />
<line x1="235.00" y1="240.00" x2="235.00" y2="295.50" stroke="#1a1a1a" stroke-width="1.2" />
<line x1="155.00" y1="295.00" x2="235.00" y2="295.00" stroke="#1a1a1a" stroke-width="1.2" />
<line x1="152.00" y1="242.00" x2="155.00" y2="242.00" stroke="#1a1a1a" stroke-width="0.9" />
<text x="149.00" y="244.05" font-size="5.8" text-anchor="end" font-weight="normal" fill="#333" >50</text>
<line x1="152.00" y1="252.50" x2="155.00" y2="252.50" stroke="#1a1a1a" stroke-width="0.9" />
<text x="149.00" y="254.55" font-size="5.8" text-anchor="end" font-weight="normal" fill="#333" >40</text>
<line x1="152.00" y1="263.00" x2="155.00" y2="263.00" stroke="#1a1a1a" stroke-width="0.9" />
<text x="149.00" y="265.05" font-size="5.8" text-anchor="end" font-weight="normal" fill="#333" >30</text>
<line x1="152.00" y1="273.75" x2="155.00" y2="273.75" stroke="#1a1a1a" stroke-width="0.9" />
<text x="149.00" y="275.80" font-size="5.8" text-anchor="end" font-weight="normal" fill="#333" >20</text>
<line x1="152.00" y1="284.50" x2="155.00" y2="284.50" stroke="#1a1a1a" stroke-width="0.9" />
<text x="149.00" y="286.55" font-size="5.8" text-anchor="end" font-weight="normal" fill="#333" >10</text>
<line x1="152.00" y1="295.00" x2="155.00" y2="295.00" stroke="#1a1a1a" stroke-width="0.9" />
<text x="149.00" y="297.05" font-size="5.8" text-anchor="end" font-weight="normal" fill="#333" >0</text>
<line x1="235.00" y1="242.00" x2="238.00" y2="242.00" stroke="#1a1a1a" stroke-width="0.9" />
<text x="241.00" y="244.05" font-size="5.8" text-anchor="start" font-weight="normal" fill="#333" >50</text>
<line x1="235.00" y1="252.50" x2="238.00" y2="252.50" stroke="#1a1a1a" stroke-width="0.9" />
<text x="241.00" y="254.55" font-size="5.8" text-anchor="start" font-weight="normal" fill="#333" >40</text>
<line x1="235.00" y1="263.00" x2="238.00" y2="263.00" stroke="#1a1a1a" stroke-width="0.9" />
<text x="241.00" y="265.05" font-size="5.8" text-anchor="start" font-weight="normal" fill="#333" >30</text>
<line x1="235.00" y1="273.75" x2="238.00" y2="273.75" stroke="#1a1a1a" stroke-width="0.9" />
<text x="241.00" y="275.80" font-size="5.8" text-anchor="start" font-weight="normal" fill="#333" >20</text>
<line x1="235.00" y1="284.50" x2="238.00" y2="284.50" stroke="#1a1a1a" stroke-width="0.9" />
<text x="241.00" y="286.55" font-size="5.8" text-anchor="start" font-weight="normal" fill="#333" >10</text>
<line x1="235.00" y1="295.00" x2="238.00" y2="295.00" stroke="#1a1a1a" stroke-width="0.9" />
<text x="241.00" y="297.05" font-size="5.8" text-anchor="start" font-weight="normal" fill="#333" >0</text>
<line x1="155.00" y1="295.00" x2="155.00" y2="297.20" stroke="#1a1a1a" stroke-width="0.8" />
<text x="155.00" y="306.85" font-size="5.8" text-anchor="middle" font-weight="normal" fill="#333" >0</text>
<line x1="173.25" y1="295.00" x2="173.25" y2="297.20" stroke="#1a1a1a" stroke-width="0.8" />
<text x="173.25" y="306.85" font-size="5.8" text-anchor="middle" font-weight="normal" fill="#333" >200</text>
<line x1="191.25" y1="295.00" x2="191.25" y2="297.20" stroke="#1a1a1a" stroke-width="0.8" />
<text x="191.25" y="306.85" font-size="5.8" text-anchor="middle" font-weight="normal" fill="#333" >400</text>
<line x1="210.00" y1="295.00" x2="210.00" y2="297.20" stroke="#1a1a1a" stroke-width="0.8" />
<text x="210.00" y="306.85" font-size="5.8" text-anchor="middle" font-weight="normal" fill="#333" >600</text>
<line x1="227.50" y1="295.00" x2="227.50" y2="297.20" stroke="#1a1a1a" stroke-width="0.8" />
<text x="227.50" y="306.85" font-size="5.8" text-anchor="middle" font-weight="normal" fill="#333" >800</text>
<line x1="235.00" y1="225.50" x2="235.00" y2="233.00" stroke="#111" stroke-width="1.0" />
<path d="M233.00,232.30 L237.00,232.30 L235.00,235.50 Z" fill="#111"/>
<polyline points="155.00,252.50 235.00,289.50" fill="none" stroke="#5fb85f" stroke-width="0.9"/>
<circle cx="155.00" cy="252.50" r="0.95" fill="#3f9a3f"/>
<circle cx="235.00" cy="289.50" r="0.95" fill="#3f9a3f"/>
<polyline points="155.00,293.75 235.00,265.00" fill="none" stroke="#d42e4c" stroke-width="0.9"/>
<circle cx="155.00" cy="293.75" r="0.95" fill="#b01c38"/>
<circle cx="235.00" cy="265.00" r="0.95" fill="#b01c38"/>
<polyline points="155.00,295.00 235.00,259.50" fill="none" stroke="#2c6aa0" stroke-width="0.9"/>
<circle cx="155.00" cy="295.00" r="0.95" fill="#1f4f80"/>
<circle cx="235.00" cy="259.50" r="0.95" fill="#1f4f80"/>
<text x="316.25" y="228.30" font-size="8.2" text-anchor="middle" fill="#333" style="stroke-width:0.2px">CLL145 <tspan font-weight="bold" fill="#111">(NR)</tspan></text>
<line x1="276.25" y1="239.75" x2="276.25" y2="295.50" stroke="#1a1a1a" stroke-width="1.2" />
<line x1="357.00" y1="239.75" x2="357.00" y2="295.50" stroke="#1a1a1a" stroke-width="1.2" />
<line x1="276.25" y1="295.00" x2="357.00" y2="295.00" stroke="#1a1a1a" stroke-width="1.2" />
<line x1="273.25" y1="241.75" x2="276.25" y2="241.75" stroke="#1a1a1a" stroke-width="0.9" />
<text x="270.25" y="243.80" font-size="5.8" text-anchor="end" font-weight="normal" fill="#333" >6</text>
<line x1="273.25" y1="259.50" x2="276.25" y2="259.50" stroke="#1a1a1a" stroke-width="0.9" />
<text x="270.25" y="261.55" font-size="5.8" text-anchor="end" font-weight="normal" fill="#333" >4</text>
<line x1="273.25" y1="277.00" x2="276.25" y2="277.00" stroke="#1a1a1a" stroke-width="0.9" />
<text x="270.25" y="279.05" font-size="5.8" text-anchor="end" font-weight="normal" fill="#333" >2</text>
<line x1="273.25" y1="295.00" x2="276.25" y2="295.00" stroke="#1a1a1a" stroke-width="0.9" />
<text x="270.25" y="297.05" font-size="5.8" text-anchor="end" font-weight="normal" fill="#333" >0</text>
<line x1="357.00" y1="241.75" x2="360.00" y2="241.75" stroke="#1a1a1a" stroke-width="0.9" />
<text x="363.00" y="243.80" font-size="5.8" text-anchor="start" font-weight="normal" fill="#333" >100</text>
<line x1="357.00" y1="252.40" x2="360.00" y2="252.40" stroke="#1a1a1a" stroke-width="0.9" />
<text x="363.00" y="254.45" font-size="5.8" text-anchor="start" font-weight="normal" fill="#333" >80</text>
<line x1="357.00" y1="263.10" x2="360.00" y2="263.10" stroke="#1a1a1a" stroke-width="0.9" />
<text x="363.00" y="265.15" font-size="5.8" text-anchor="start" font-weight="normal" fill="#333" >60</text>
<line x1="357.00" y1="273.70" x2="360.00" y2="273.70" stroke="#1a1a1a" stroke-width="0.9" />
<text x="363.00" y="275.75" font-size="5.8" text-anchor="start" font-weight="normal" fill="#333" >40</text>
<line x1="357.00" y1="284.40" x2="360.00" y2="284.40" stroke="#1a1a1a" stroke-width="0.9" />
<text x="363.00" y="286.45" font-size="5.8" text-anchor="start" font-weight="normal" fill="#333" >20</text>
<line x1="357.00" y1="295.00" x2="360.00" y2="295.00" stroke="#1a1a1a" stroke-width="0.9" />
<text x="363.00" y="297.05" font-size="5.8" text-anchor="start" font-weight="normal" fill="#333" >0</text>
<line x1="276.25" y1="295.00" x2="276.25" y2="297.20" stroke="#1a1a1a" stroke-width="0.8" />
<text x="276.25" y="306.85" font-size="5.8" text-anchor="middle" font-weight="normal" fill="#333" >0</text>
<line x1="301.25" y1="295.00" x2="301.25" y2="297.20" stroke="#1a1a1a" stroke-width="0.8" />
<text x="301.25" y="306.85" font-size="5.8" text-anchor="middle" font-weight="normal" fill="#333" >100</text>
<line x1="323.75" y1="295.00" x2="323.75" y2="297.20" stroke="#1a1a1a" stroke-width="0.8" />
<text x="323.75" y="306.85" font-size="5.8" text-anchor="middle" font-weight="normal" fill="#333" >200</text>
<line x1="347.50" y1="295.00" x2="347.50" y2="297.20" stroke="#1a1a1a" stroke-width="0.8" />
<text x="347.50" y="306.85" font-size="5.8" text-anchor="middle" font-weight="normal" fill="#333" >300</text>
<line x1="357.00" y1="225.00" x2="357.00" y2="233.00" stroke="#b8b8b8" stroke-width="1.0" />
<path d="M355.00,232.30 L359.00,232.30 L357.00,235.50 Z" fill="#b8b8b8"/>
<line x1="297.00" y1="248.00" x2="297.00" y2="254.00" stroke="#5fb85f" stroke-width="0.6" />
<line x1="296.10" y1="248.00" x2="297.90" y2="248.00" stroke="#5fb85f" stroke-width="0.6" />
<line x1="296.10" y1="254.00" x2="297.90" y2="254.00" stroke="#5fb85f" stroke-width="0.6" />
<polyline points="276.90,290.00 278.40,281.60 285.00,248.75 297.00,251.25 357.00,283.00" fill="none" stroke="#5fb85f" stroke-width="0.9"/>
<circle cx="276.90" cy="290.00" r="0.95" fill="#3f9a3f"/>
<circle cx="278.40" cy="281.60" r="0.95" fill="#3f9a3f"/>
<circle cx="285.00" cy="248.75" r="0.95" fill="#3f9a3f"/>
<circle cx="297.00" cy="251.25" r="0.95" fill="#3f9a3f"/>
<circle cx="357.00" cy="283.00" r="0.95" fill="#3f9a3f"/>
<line x1="297.00" y1="268.00" x2="297.00" y2="278.00" stroke="#d42e4c" stroke-width="0.6" />
<line x1="296.10" y1="268.00" x2="297.90" y2="268.00" stroke="#d42e4c" stroke-width="0.6" />
<line x1="296.10" y1="278.00" x2="297.90" y2="278.00" stroke="#d42e4c" stroke-width="0.6" />
<polyline points="276.90,292.00 278.40,290.50 285.00,288.30 297.00,273.00 357.00,284.70" fill="none" stroke="#d42e4c" stroke-width="0.9"/>
<circle cx="276.90" cy="292.00" r="0.95" fill="#b01c38"/>
<circle cx="278.40" cy="290.50" r="0.95" fill="#b01c38"/>
<circle cx="285.00" cy="288.30" r="0.95" fill="#b01c38"/>
<circle cx="297.00" cy="273.00" r="0.95" fill="#b01c38"/>
<circle cx="357.00" cy="284.70" r="0.95" fill="#b01c38"/>
<line x1="297.00" y1="257.00" x2="297.00" y2="265.00" stroke="#2c6aa0" stroke-width="0.6" />
<line x1="296.10" y1="257.00" x2="297.90" y2="257.00" stroke="#2c6aa0" stroke-width="0.6" />
<line x1="296.10" y1="265.00" x2="297.90" y2="265.00" stroke="#2c6aa0" stroke-width="0.6" />
<polyline points="276.90,283.40 278.40,289.80 285.00,288.00 297.00,260.75 357.00,275.20" fill="none" stroke="#2c6aa0" stroke-width="0.9"/>
<circle cx="276.90" cy="283.40" r="0.95" fill="#1f4f80"/>
<circle cx="278.40" cy="289.80" r="0.95" fill="#1f4f80"/>
<circle cx="285.00" cy="288.00" r="0.95" fill="#1f4f80"/>
<circle cx="297.00" cy="260.75" r="0.95" fill="#1f4f80"/>
<circle cx="357.00" cy="275.20" r="0.95" fill="#1f4f80"/>
<text x="436.00" y="229.00" font-size="8.2" text-anchor="middle" fill="#333" style="stroke-width:0.2px">CLL147 <tspan font-weight="bold" fill="#111">(R)</tspan></text>
<line x1="396.50" y1="239.80" x2="396.50" y2="295.90" stroke="#1a1a1a" stroke-width="1.2" />
<line x1="476.40" y1="239.80" x2="476.40" y2="295.90" stroke="#1a1a1a" stroke-width="1.2" />
<line x1="396.50" y1="295.40" x2="476.40" y2="295.40" stroke="#1a1a1a" stroke-width="1.2" />
<line x1="393.50" y1="241.80" x2="396.50" y2="241.80" stroke="#1a1a1a" stroke-width="0.9" />
<text x="390.50" y="243.85" font-size="5.8" text-anchor="end" font-weight="normal" fill="#333" >5</text>
<line x1="393.50" y1="252.50" x2="396.50" y2="252.50" stroke="#1a1a1a" stroke-width="0.9" />
<text x="390.50" y="254.55" font-size="5.8" text-anchor="end" font-weight="normal" fill="#333" >4</text>
<line x1="393.50" y1="263.30" x2="396.50" y2="263.30" stroke="#1a1a1a" stroke-width="0.9" />
<text x="390.50" y="265.35" font-size="5.8" text-anchor="end" font-weight="normal" fill="#333" >3</text>
<line x1="393.50" y1="274.00" x2="396.50" y2="274.00" stroke="#1a1a1a" stroke-width="0.9" />
<text x="390.50" y="276.05" font-size="5.8" text-anchor="end" font-weight="normal" fill="#333" >2</text>
<line x1="393.50" y1="284.60" x2="396.50" y2="284.60" stroke="#1a1a1a" stroke-width="0.9" />
<text x="390.50" y="286.65" font-size="5.8" text-anchor="end" font-weight="normal" fill="#333" >1</text>
<line x1="393.50" y1="295.40" x2="396.50" y2="295.40" stroke="#1a1a1a" stroke-width="0.9" />
<text x="390.50" y="297.45" font-size="5.8" text-anchor="end" font-weight="normal" fill="#333" >0</text>
<line x1="476.40" y1="241.80" x2="479.40" y2="241.80" stroke="#1a1a1a" stroke-width="0.9" />
<text x="482.40" y="243.85" font-size="5.8" text-anchor="start" font-weight="normal" fill="#333" >40</text>
<line x1="476.40" y1="255.20" x2="479.40" y2="255.20" stroke="#1a1a1a" stroke-width="0.9" />
<text x="482.40" y="257.25" font-size="5.8" text-anchor="start" font-weight="normal" fill="#333" >30</text>
<line x1="476.40" y1="268.60" x2="479.40" y2="268.60" stroke="#1a1a1a" stroke-width="0.9" />
<text x="482.40" y="270.65" font-size="5.8" text-anchor="start" font-weight="normal" fill="#333" >20</text>
<line x1="476.40" y1="282.00" x2="479.40" y2="282.00" stroke="#1a1a1a" stroke-width="0.9" />
<text x="482.40" y="284.05" font-size="5.8" text-anchor="start" font-weight="normal" fill="#333" >10</text>
<line x1="476.40" y1="295.40" x2="479.40" y2="295.40" stroke="#1a1a1a" stroke-width="0.9" />
<text x="482.40" y="297.45" font-size="5.8" text-anchor="start" font-weight="normal" fill="#333" >0</text>
<line x1="396.70" y1="295.40" x2="396.70" y2="297.60" stroke="#1a1a1a" stroke-width="0.8" />
<text x="396.70" y="306.85" font-size="5.8" text-anchor="middle" font-weight="normal" fill="#333" >0</text>
<line x1="414.20" y1="295.40" x2="414.20" y2="297.60" stroke="#1a1a1a" stroke-width="0.8" />
<text x="414.20" y="306.85" font-size="5.8" text-anchor="middle" font-weight="normal" fill="#333" >50</text>
<line x1="431.20" y1="295.40" x2="431.20" y2="297.60" stroke="#1a1a1a" stroke-width="0.8" />
<text x="431.20" y="306.85" font-size="5.8" text-anchor="middle" font-weight="normal" fill="#333" >100</text>
<line x1="451.30" y1="295.40" x2="451.30" y2="297.60" stroke="#1a1a1a" stroke-width="0.8" />
<text x="451.30" y="306.85" font-size="5.8" text-anchor="middle" font-weight="normal" fill="#333" >150</text>
<line x1="468.90" y1="295.40" x2="468.90" y2="297.60" stroke="#1a1a1a" stroke-width="0.8" />
<text x="468.90" y="306.85" font-size="5.8" text-anchor="middle" font-weight="normal" fill="#333" >200</text>
<line x1="476.00" y1="224.50" x2="476.00" y2="233.00" stroke="#111" stroke-width="1.0" />
<path d="M474.00,232.30 L478.00,232.30 L476.00,235.50 Z" fill="#111"/>
<polyline points="396.90,284.40 399.50,258.40 406.50,262.40 414.30,256.00 476.40,282.90" fill="none" stroke="#5fb85f" stroke-width="0.9"/>
<circle cx="396.90" cy="284.40" r="0.95" fill="#3f9a3f"/>
<circle cx="399.50" cy="258.40" r="0.95" fill="#3f9a3f"/>
<circle cx="406.50" cy="262.40" r="0.95" fill="#3f9a3f"/>
<circle cx="414.30" cy="256.00" r="0.95" fill="#3f9a3f"/>
<circle cx="476.40" cy="282.90" r="0.95" fill="#3f9a3f"/>
<polyline points="396.50,284.00 399.00,290.00 404.00,294.00 414.00,295.00 476.40,249.00" fill="none" stroke="#d42e4c" stroke-width="0.9"/>
<circle cx="396.50" cy="284.00" r="0.95" fill="#b01c38"/>
<circle cx="399.00" cy="290.00" r="0.95" fill="#b01c38"/>
<circle cx="404.00" cy="294.00" r="0.95" fill="#b01c38"/>
<circle cx="414.00" cy="295.00" r="0.95" fill="#b01c38"/>
<circle cx="476.40" cy="249.00" r="0.95" fill="#b01c38"/>
<polyline points="396.50,286.00 399.00,291.00 404.00,294.50 414.00,295.00 476.40,260.30" fill="none" stroke="#2c6aa0" stroke-width="0.9"/>
<circle cx="396.50" cy="286.00" r="0.95" fill="#1f4f80"/>
<circle cx="399.00" cy="291.00" r="0.95" fill="#1f4f80"/>
<circle cx="404.00" cy="294.50" r="0.95" fill="#1f4f80"/>
<circle cx="414.00" cy="295.00" r="0.95" fill="#1f4f80"/>
<circle cx="476.40" cy="260.30" r="0.95" fill="#1f4f80"/>
<text x="77.30" y="328.40" font-size="8.2" text-anchor="middle" fill="#333" style="stroke-width:0.2px">CLL149 <tspan font-weight="bold" fill="#111">(R)</tspan></text>
<line x1="36.90" y1="336.20" x2="36.90" y2="392.60" stroke="#1a1a1a" stroke-width="1.2" />
<line x1="117.10" y1="336.20" x2="117.10" y2="392.60" stroke="#1a1a1a" stroke-width="1.2" />
<line x1="36.90" y1="392.10" x2="117.10" y2="392.10" stroke="#1a1a1a" stroke-width="1.2" />
<line x1="33.90" y1="338.20" x2="36.90" y2="338.20" stroke="#1a1a1a" stroke-width="0.9" />
<text x="30.90" y="340.25" font-size="5.8" text-anchor="end" font-weight="normal" fill="#333" >20</text>
<line x1="33.90" y1="351.70" x2="36.90" y2="351.70" stroke="#1a1a1a" stroke-width="0.9" />
<text x="30.90" y="353.75" font-size="5.8" text-anchor="end" font-weight="normal" fill="#333" >15</text>
<line x1="33.90" y1="365.20" x2="36.90" y2="365.20" stroke="#1a1a1a" stroke-width="0.9" />
<text x="30.90" y="367.25" font-size="5.8" text-anchor="end" font-weight="normal" fill="#333" >10</text>
<line x1="33.90" y1="378.60" x2="36.90" y2="378.60" stroke="#1a1a1a" stroke-width="0.9" />
<text x="30.90" y="380.65" font-size="5.8" text-anchor="end" font-weight="normal" fill="#333" >5</text>
<line x1="33.90" y1="392.10" x2="36.90" y2="392.10" stroke="#1a1a1a" stroke-width="0.9" />
<text x="30.90" y="394.15" font-size="5.8" text-anchor="end" font-weight="normal" fill="#333" >0</text>
<line x1="117.10" y1="338.20" x2="120.10" y2="338.20" stroke="#1a1a1a" stroke-width="0.9" />
<text x="123.10" y="340.25" font-size="5.8" text-anchor="start" font-weight="normal" fill="#333" >40</text>
<line x1="117.10" y1="351.70" x2="120.10" y2="351.70" stroke="#1a1a1a" stroke-width="0.9" />
<text x="123.10" y="353.75" font-size="5.8" text-anchor="start" font-weight="normal" fill="#333" >30</text>
<line x1="117.10" y1="365.20" x2="120.10" y2="365.20" stroke="#1a1a1a" stroke-width="0.9" />
<text x="123.10" y="367.25" font-size="5.8" text-anchor="start" font-weight="normal" fill="#333" >20</text>
<line x1="117.10" y1="378.60" x2="120.10" y2="378.60" stroke="#1a1a1a" stroke-width="0.9" />
<text x="123.10" y="380.65" font-size="5.8" text-anchor="start" font-weight="normal" fill="#333" >10</text>
<line x1="117.10" y1="392.10" x2="120.10" y2="392.10" stroke="#1a1a1a" stroke-width="0.9" />
<text x="123.10" y="394.15" font-size="5.8" text-anchor="start" font-weight="normal" fill="#333" >0</text>
<line x1="36.90" y1="392.10" x2="36.90" y2="394.30" stroke="#1a1a1a" stroke-width="0.8" />
<text x="36.90" y="402.55" font-size="5.8" text-anchor="middle" font-weight="normal" fill="#333" >0</text>
<line x1="61.90" y1="392.10" x2="61.90" y2="394.30" stroke="#1a1a1a" stroke-width="0.8" />
<text x="61.90" y="402.55" font-size="5.8" text-anchor="middle" font-weight="normal" fill="#333" >100</text>
<line x1="86.20" y1="392.10" x2="86.20" y2="394.30" stroke="#1a1a1a" stroke-width="0.8" />
<text x="86.20" y="402.55" font-size="5.8" text-anchor="middle" font-weight="normal" fill="#333" >200</text>
<line x1="110.40" y1="392.10" x2="110.40" y2="394.30" stroke="#1a1a1a" stroke-width="0.8" />
<text x="110.40" y="402.55" font-size="5.8" text-anchor="middle" font-weight="normal" fill="#333" >300</text>
<line x1="117.00" y1="322.20" x2="117.00" y2="329.20" stroke="#777" stroke-width="1.0" />
<path d="M115.00,328.50 L119.00,328.50 L117.00,331.70 Z" fill="#111"/>
<polyline points="36.90,380.00 38.50,353.30 76.60,350.30 88.80,372.70 117.10,379.40" fill="none" stroke="#5fb85f" stroke-width="0.9"/>
<circle cx="36.90" cy="380.00" r="0.95" fill="#3f9a3f"/>
<circle cx="38.50" cy="353.30" r="0.95" fill="#3f9a3f"/>
<circle cx="76.60" cy="350.30" r="0.95" fill="#3f9a3f"/>
<circle cx="88.80" cy="372.70" r="0.95" fill="#3f9a3f"/>
<circle cx="117.10" cy="379.40" r="0.95" fill="#3f9a3f"/>
<line x1="76.60" y1="361.90" x2="76.60" y2="382.00" stroke="#d42e4c" stroke-width="0.6" />
<line x1="75.70" y1="361.90" x2="77.50" y2="361.90" stroke="#d42e4c" stroke-width="0.6" />
<line x1="75.70" y1="382.00" x2="77.50" y2="382.00" stroke="#d42e4c" stroke-width="0.6" />
<line x1="88.80" y1="352.00" x2="88.80" y2="372.00" stroke="#d42e4c" stroke-width="0.6" />
<line x1="87.90" y1="352.00" x2="89.70" y2="352.00" stroke="#d42e4c" stroke-width="0.6" />
<line x1="87.90" y1="372.00" x2="89.70" y2="372.00" stroke="#d42e4c" stroke-width="0.6" />
<polyline points="36.90,392.00 38.50,391.00 76.60,372.70 88.80,360.60 117.10,380.00" fill="none" stroke="#d42e4c" stroke-width="0.9"/>
<circle cx="36.90" cy="392.00" r="0.95" fill="#b01c38"/>
<circle cx="38.50" cy="391.00" r="0.95" fill="#b01c38"/>
<circle cx="76.60" cy="372.70" r="0.95" fill="#b01c38"/>
<circle cx="88.80" cy="360.60" r="0.95" fill="#b01c38"/>
<circle cx="117.10" cy="380.00" r="0.95" fill="#b01c38"/>
<line x1="76.60" y1="364.00" x2="76.60" y2="378.00" stroke="#2c6aa0" stroke-width="0.6" />
<line x1="75.70" y1="364.00" x2="77.50" y2="364.00" stroke="#2c6aa0" stroke-width="0.6" />
<line x1="75.70" y1="378.00" x2="77.50" y2="378.00" stroke="#2c6aa0" stroke-width="0.6" />
<line x1="88.80" y1="346.30" x2="88.80" y2="374.00" stroke="#2c6aa0" stroke-width="0.6" />
<line x1="87.90" y1="346.30" x2="89.70" y2="346.30" stroke="#2c6aa0" stroke-width="0.6" />
<line x1="87.90" y1="374.00" x2="89.70" y2="374.00" stroke="#2c6aa0" stroke-width="0.6" />
<polyline points="36.90,391.00 38.50,391.00 76.60,371.40 88.80,359.80 117.10,378.00" fill="none" stroke="#2c6aa0" stroke-width="0.9"/>
<circle cx="36.90" cy="391.00" r="0.95" fill="#1f4f80"/>
<circle cx="38.50" cy="391.00" r="0.95" fill="#1f4f80"/>
<circle cx="76.60" cy="371.40" r="0.95" fill="#1f4f80"/>
<circle cx="88.80" cy="359.80" r="0.95" fill="#1f4f80"/>
<circle cx="117.10" cy="378.00" r="0.95" fill="#1f4f80"/>
<text x="194.50" y="328.30" font-size="8.2" text-anchor="middle" fill="#333" style="stroke-width:0.2px">CLL157 <tspan font-weight="bold" fill="#111">(R)</tspan></text>
<line x1="155.00" y1="336.25" x2="155.00" y2="392.50" stroke="#1a1a1a" stroke-width="1.2" />
<line x1="235.00" y1="336.25" x2="235.00" y2="392.50" stroke="#1a1a1a" stroke-width="1.2" />
<line x1="155.00" y1="392.00" x2="235.00" y2="392.00" stroke="#1a1a1a" stroke-width="1.2" />
<line x1="152.00" y1="338.25" x2="155.00" y2="338.25" stroke="#1a1a1a" stroke-width="0.9" />
<text x="149.00" y="340.30" font-size="5.8" text-anchor="end" font-weight="normal" fill="#333" >80</text>
<line x1="152.00" y1="351.75" x2="155.00" y2="351.75" stroke="#1a1a1a" stroke-width="0.9" />
<text x="149.00" y="353.80" font-size="5.8" text-anchor="end" font-weight="normal" fill="#333" >60</text>
<line x1="152.00" y1="365.00" x2="155.00" y2="365.00" stroke="#1a1a1a" stroke-width="0.9" />
<text x="149.00" y="367.05" font-size="5.8" text-anchor="end" font-weight="normal" fill="#333" >40</text>
<line x1="152.00" y1="378.50" x2="155.00" y2="378.50" stroke="#1a1a1a" stroke-width="0.9" />
<text x="149.00" y="380.55" font-size="5.8" text-anchor="end" font-weight="normal" fill="#333" >20</text>
<line x1="152.00" y1="392.00" x2="155.00" y2="392.00" stroke="#1a1a1a" stroke-width="0.9" />
<text x="149.00" y="394.05" font-size="5.8" text-anchor="end" font-weight="normal" fill="#333" >0</text>
<line x1="235.00" y1="338.25" x2="238.00" y2="338.25" stroke="#1a1a1a" stroke-width="0.9" />
<text x="241.00" y="340.30" font-size="5.8" text-anchor="start" font-weight="normal" fill="#333" >400</text>
<line x1="235.00" y1="351.75" x2="238.00" y2="351.75" stroke="#1a1a1a" stroke-width="0.9" />
<text x="241.00" y="353.80" font-size="5.8" text-anchor="start" font-weight="normal" fill="#333" >300</text>
<line x1="235.00" y1="365.00" x2="238.00" y2="365.00" stroke="#1a1a1a" stroke-width="0.9" />
<text x="241.00" y="367.05" font-size="5.8" text-anchor="start" font-weight="normal" fill="#333" >200</text>
<line x1="235.00" y1="378.50" x2="238.00" y2="378.50" stroke="#1a1a1a" stroke-width="0.9" />
<text x="241.00" y="380.55" font-size="5.8" text-anchor="start" font-weight="normal" fill="#333" >100</text>
<line x1="235.00" y1="392.00" x2="238.00" y2="392.00" stroke="#1a1a1a" stroke-width="0.9" />
<text x="241.00" y="394.05" font-size="5.8" text-anchor="start" font-weight="normal" fill="#333" >0</text>
<line x1="155.00" y1="392.00" x2="155.00" y2="394.20" stroke="#1a1a1a" stroke-width="0.8" />
<text x="155.00" y="402.55" font-size="5.8" text-anchor="middle" font-weight="normal" fill="#333" >0</text>
<line x1="180.00" y1="392.00" x2="180.00" y2="394.20" stroke="#1a1a1a" stroke-width="0.8" />
<text x="180.00" y="402.55" font-size="5.8" text-anchor="middle" font-weight="normal" fill="#333" >50</text>
<line x1="205.00" y1="392.00" x2="205.00" y2="394.20" stroke="#1a1a1a" stroke-width="0.8" />
<text x="205.00" y="402.55" font-size="5.8" text-anchor="middle" font-weight="normal" fill="#333" >100</text>
<line x1="229.50" y1="392.00" x2="229.50" y2="394.20" stroke="#1a1a1a" stroke-width="0.8" />
<text x="229.50" y="402.55" font-size="5.8" text-anchor="middle" font-weight="normal" fill="#333" >150</text>
<line x1="235.00" y1="321.50" x2="235.00" y2="329.50" stroke="#111" stroke-width="1.0" />
<path d="M233.00,328.80 L237.00,328.80 L235.00,332.00 Z" fill="#111"/>
<polyline points="155.00,366.25 157.00,350.75 161.00,356.25 165.00,350.75 235.00,378.75" fill="none" stroke="#5fb85f" stroke-width="0.9"/>
<circle cx="155.00" cy="366.25" r="0.95" fill="#3f9a3f"/>
<circle cx="157.00" cy="350.75" r="0.95" fill="#3f9a3f"/>
<circle cx="161.00" cy="356.25" r="0.95" fill="#3f9a3f"/>
<circle cx="165.00" cy="350.75" r="0.95" fill="#3f9a3f"/>
<circle cx="235.00" cy="378.75" r="0.95" fill="#3f9a3f"/>
<polyline points="155.00,392.00 161.00,391.50 165.00,391.00 235.00,384.50" fill="none" stroke="#d42e4c" stroke-width="0.9"/>
<circle cx="155.00" cy="392.00" r="0.95" fill="#b01c38"/>
<circle cx="161.00" cy="391.50" r="0.95" fill="#b01c38"/>
<circle cx="165.00" cy="391.00" r="0.95" fill="#b01c38"/>
<circle cx="235.00" cy="384.50" r="0.95" fill="#b01c38"/>
<line x1="165.00" y1="381.00" x2="165.00" y2="393.00" stroke="#2c6aa0" stroke-width="0.6" />
<line x1="164.10" y1="381.00" x2="165.90" y2="381.00" stroke="#2c6aa0" stroke-width="0.6" />
<line x1="164.10" y1="393.00" x2="165.90" y2="393.00" stroke="#2c6aa0" stroke-width="0.6" />
<polyline points="155.00,392.00 161.00,390.50 165.00,387.50 235.00,352.00" fill="none" stroke="#2c6aa0" stroke-width="0.9"/>
<circle cx="155.00" cy="392.00" r="0.95" fill="#1f4f80"/>
<circle cx="161.00" cy="390.50" r="0.95" fill="#1f4f80"/>
<circle cx="165.00" cy="387.50" r="0.95" fill="#1f4f80"/>
<circle cx="235.00" cy="352.00" r="0.95" fill="#1f4f80"/>
<text x="317.00" y="328.30" font-size="8.2" text-anchor="middle" fill="#333" style="stroke-width:0.2px">CLL166 <tspan font-weight="bold" fill="#111">(R)</tspan></text>
<line x1="276.75" y1="336.25" x2="276.75" y2="392.50" stroke="#1a1a1a" stroke-width="1.2" />
<line x1="357.00" y1="336.25" x2="357.00" y2="392.50" stroke="#1a1a1a" stroke-width="1.2" />
<line x1="276.75" y1="392.00" x2="357.00" y2="392.00" stroke="#1a1a1a" stroke-width="1.2" />
<line x1="273.75" y1="338.25" x2="276.75" y2="338.25" stroke="#1a1a1a" stroke-width="0.9" />
<text x="270.75" y="340.30" font-size="5.8" text-anchor="end" font-weight="normal" fill="#333" >2.0</text>
<line x1="273.75" y1="352.00" x2="276.75" y2="352.00" stroke="#1a1a1a" stroke-width="0.9" />
<text x="270.75" y="354.05" font-size="5.8" text-anchor="end" font-weight="normal" fill="#333" >1.5</text>
<line x1="273.75" y1="365.50" x2="276.75" y2="365.50" stroke="#1a1a1a" stroke-width="0.9" />
<text x="270.75" y="367.55" font-size="5.8" text-anchor="end" font-weight="normal" fill="#333" >1.0</text>
<line x1="273.75" y1="378.75" x2="276.75" y2="378.75" stroke="#1a1a1a" stroke-width="0.9" />
<text x="270.75" y="380.80" font-size="5.8" text-anchor="end" font-weight="normal" fill="#333" >0.5</text>
<line x1="273.75" y1="392.00" x2="276.75" y2="392.00" stroke="#1a1a1a" stroke-width="0.9" />
<text x="270.75" y="394.05" font-size="5.8" text-anchor="end" font-weight="normal" fill="#333" >0.0</text>
<line x1="357.00" y1="338.25" x2="360.00" y2="338.25" stroke="#1a1a1a" stroke-width="0.9" />
<text x="363.00" y="340.30" font-size="5.8" text-anchor="start" font-weight="normal" fill="#333" >70</text>
<line x1="357.00" y1="352.00" x2="360.00" y2="352.00" stroke="#1a1a1a" stroke-width="0.9" />
<text x="363.00" y="354.05" font-size="5.8" text-anchor="start" font-weight="normal" fill="#333" >60</text>
<line x1="357.00" y1="365.50" x2="360.00" y2="365.50" stroke="#1a1a1a" stroke-width="0.9" />
<text x="363.00" y="367.55" font-size="5.8" text-anchor="start" font-weight="normal" fill="#333" >50</text>
<line x1="357.00" y1="378.75" x2="360.00" y2="378.75" stroke="#1a1a1a" stroke-width="0.9" />
<text x="363.00" y="380.80" font-size="5.8" text-anchor="start" font-weight="normal" fill="#333" >40</text>
<line x1="357.00" y1="392.00" x2="360.00" y2="392.00" stroke="#1a1a1a" stroke-width="0.9" />
<text x="363.00" y="394.05" font-size="5.8" text-anchor="start" font-weight="normal" fill="#333" >30</text>
<line x1="276.75" y1="392.00" x2="276.75" y2="394.20" stroke="#1a1a1a" stroke-width="0.8" />
<text x="276.75" y="402.55" font-size="5.8" text-anchor="middle" font-weight="normal" fill="#333" >0</text>
<line x1="300.75" y1="392.00" x2="300.75" y2="394.20" stroke="#1a1a1a" stroke-width="0.8" />
<text x="300.75" y="402.55" font-size="5.8" text-anchor="middle" font-weight="normal" fill="#333" >50</text>
<line x1="323.75" y1="392.00" x2="323.75" y2="394.20" stroke="#1a1a1a" stroke-width="0.8" />
<text x="323.75" y="402.55" font-size="5.8" text-anchor="middle" font-weight="normal" fill="#333" >100</text>
<line x1="348.25" y1="392.00" x2="348.25" y2="394.20" stroke="#1a1a1a" stroke-width="0.8" />
<text x="348.25" y="402.55" font-size="5.8" text-anchor="middle" font-weight="normal" fill="#333" >150</text>
<line x1="357.00" y1="321.50" x2="357.00" y2="329.50" stroke="#b8b8b8" stroke-width="1.0" />
<path d="M355.00,328.80 L359.00,328.80 L357.00,332.00 Z" fill="#b8b8b8"/>
<polyline points="276.75,361.25 283.00,345.75 289.00,365.50 357.00,380.50" fill="none" stroke="#5fb85f" stroke-width="0.9"/>
<circle cx="276.75" cy="361.25" r="0.95" fill="#3f9a3f"/>
<circle cx="283.00" cy="345.75" r="0.95" fill="#3f9a3f"/>
<circle cx="289.00" cy="365.50" r="0.95" fill="#3f9a3f"/>
<circle cx="357.00" cy="380.50" r="0.95" fill="#3f9a3f"/>
<line x1="283.00" y1="367.00" x2="283.00" y2="373.00" stroke="#d42e4c" stroke-width="0.6" />
<line x1="282.10" y1="367.00" x2="283.90" y2="367.00" stroke="#d42e4c" stroke-width="0.6" />
<line x1="282.10" y1="373.00" x2="283.90" y2="373.00" stroke="#d42e4c" stroke-width="0.6" />
<line x1="289.00" y1="350.00" x2="289.00" y2="357.00" stroke="#d42e4c" stroke-width="0.6" />
<line x1="288.10" y1="350.00" x2="289.90" y2="350.00" stroke="#d42e4c" stroke-width="0.6" />
<line x1="288.10" y1="357.00" x2="289.90" y2="357.00" stroke="#d42e4c" stroke-width="0.6" />
<polyline points="276.75,365.50 283.00,371.25 289.00,353.00 357.00,356.25" fill="none" stroke="#d42e4c" stroke-width="0.9"/>
<circle cx="276.75" cy="365.50" r="0.95" fill="#b01c38"/>
<circle cx="283.00" cy="371.25" r="0.95" fill="#b01c38"/>
<circle cx="289.00" cy="353.00" r="0.95" fill="#b01c38"/>
<circle cx="357.00" cy="356.25" r="0.95" fill="#b01c38"/>
<line x1="283.00" y1="368.00" x2="283.00" y2="374.00" stroke="#2c6aa0" stroke-width="0.6" />
<line x1="282.10" y1="368.00" x2="283.90" y2="368.00" stroke="#2c6aa0" stroke-width="0.6" />
<line x1="282.10" y1="374.00" x2="283.90" y2="374.00" stroke="#2c6aa0" stroke-width="0.6" />
<polyline points="276.75,365.50 283.00,370.50 289.00,357.50 357.00,365.50" fill="none" stroke="#2c6aa0" stroke-width="0.9"/>
<circle cx="276.75" cy="365.50" r="0.95" fill="#1f4f80"/>
<circle cx="283.00" cy="370.50" r="0.95" fill="#1f4f80"/>
<circle cx="289.00" cy="357.50" r="0.95" fill="#1f4f80"/>
<circle cx="357.00" cy="365.50" r="0.95" fill="#1f4f80"/>
<text x="436.00" y="328.40" font-size="8.2" text-anchor="middle" fill="#333" style="stroke-width:0.2px">CLL168 <tspan font-weight="normal" fill="#111">(R)</tspan></text>
<line x1="396.70" y1="336.50" x2="396.70" y2="392.60" stroke="#1a1a1a" stroke-width="1.2" />
<line x1="476.40" y1="336.50" x2="476.40" y2="392.60" stroke="#1a1a1a" stroke-width="1.2" />
<line x1="396.70" y1="392.10" x2="476.40" y2="392.10" stroke="#1a1a1a" stroke-width="1.2" />
<line x1="393.70" y1="338.50" x2="396.70" y2="338.50" stroke="#1a1a1a" stroke-width="0.9" />
<text x="390.70" y="340.55" font-size="5.8" text-anchor="end" font-weight="normal" fill="#333" >1.5</text>
<line x1="393.70" y1="356.50" x2="396.70" y2="356.50" stroke="#1a1a1a" stroke-width="0.9" />
<text x="390.70" y="358.55" font-size="5.8" text-anchor="end" font-weight="normal" fill="#333" >1.0</text>
<line x1="393.70" y1="374.00" x2="396.70" y2="374.00" stroke="#1a1a1a" stroke-width="0.9" />
<text x="390.70" y="376.05" font-size="5.8" text-anchor="end" font-weight="normal" fill="#333" >0.5</text>
<line x1="393.70" y1="392.10" x2="396.70" y2="392.10" stroke="#1a1a1a" stroke-width="0.9" />
<text x="390.70" y="394.15" font-size="5.8" text-anchor="end" font-weight="normal" fill="#333" >0.0</text>
<line x1="476.40" y1="338.50" x2="479.40" y2="338.50" stroke="#1a1a1a" stroke-width="0.9" />
<text x="482.40" y="340.55" font-size="5.8" text-anchor="start" font-weight="normal" fill="#333" >150</text>
<line x1="476.40" y1="356.50" x2="479.40" y2="356.50" stroke="#1a1a1a" stroke-width="0.9" />
<text x="482.40" y="358.55" font-size="5.8" text-anchor="start" font-weight="normal" fill="#333" >100</text>
<line x1="476.40" y1="374.00" x2="479.40" y2="374.00" stroke="#1a1a1a" stroke-width="0.9" />
<text x="482.40" y="376.05" font-size="5.8" text-anchor="start" font-weight="normal" fill="#333" >50</text>
<line x1="476.40" y1="392.10" x2="479.40" y2="392.10" stroke="#1a1a1a" stroke-width="0.9" />
<text x="482.40" y="394.15" font-size="5.8" text-anchor="start" font-weight="normal" fill="#333" >0</text>
<line x1="396.70" y1="392.10" x2="396.70" y2="394.30" stroke="#1a1a1a" stroke-width="0.8" />
<text x="396.70" y="402.55" font-size="5.8" text-anchor="middle" font-weight="normal" fill="#333" >0</text>
<line x1="415.00" y1="392.10" x2="415.00" y2="394.30" stroke="#1a1a1a" stroke-width="0.8" />
<text x="415.00" y="402.55" font-size="5.8" text-anchor="middle" font-weight="normal" fill="#333" >10</text>
<line x1="434.70" y1="392.10" x2="434.70" y2="394.30" stroke="#1a1a1a" stroke-width="0.8" />
<text x="434.70" y="402.55" font-size="5.8" text-anchor="middle" font-weight="normal" fill="#333" >20</text>
<line x1="452.70" y1="392.10" x2="452.70" y2="394.30" stroke="#1a1a1a" stroke-width="0.8" />
<text x="452.70" y="402.55" font-size="5.8" text-anchor="middle" font-weight="normal" fill="#333" >30</text>
<line x1="472.40" y1="392.10" x2="472.40" y2="394.30" stroke="#1a1a1a" stroke-width="0.8" />
<text x="472.40" y="402.55" font-size="5.8" text-anchor="middle" font-weight="normal" fill="#333" >40</text>
<line x1="476.00" y1="321.50" x2="476.00" y2="329.30" stroke="#b8b8b8" stroke-width="1.0" />
<path d="M474.00,328.60 L478.00,328.60 L476.00,331.80 Z" fill="#b8b8b8"/>
<polyline points="396.70,374.00 423.60,343.60 476.40,342.30" fill="none" stroke="#5fb85f" stroke-width="0.9"/>
<circle cx="396.70" cy="374.00" r="0.95" fill="#3f9a3f"/>
<circle cx="423.60" cy="343.60" r="0.95" fill="#3f9a3f"/>
<circle cx="476.40" cy="342.30" r="0.95" fill="#3f9a3f"/>
<line x1="423.60" y1="381.00" x2="423.60" y2="386.00" stroke="#d42e4c" stroke-width="0.6" />
<line x1="422.70" y1="381.00" x2="424.50" y2="381.00" stroke="#d42e4c" stroke-width="0.6" />
<line x1="422.70" y1="386.00" x2="424.50" y2="386.00" stroke="#d42e4c" stroke-width="0.6" />
<polyline points="396.70,356.50 423.60,383.50 476.40,385.60" fill="none" stroke="#d42e4c" stroke-width="0.9"/>
<circle cx="396.70" cy="356.50" r="0.95" fill="#b01c38"/>
<circle cx="423.60" cy="383.50" r="0.95" fill="#b01c38"/>
<circle cx="476.40" cy="385.60" r="0.95" fill="#b01c38"/>
<line x1="423.60" y1="358.00" x2="423.60" y2="365.00" stroke="#2c6aa0" stroke-width="0.6" />
<line x1="422.70" y1="358.00" x2="424.50" y2="358.00" stroke="#2c6aa0" stroke-width="0.6" />
<line x1="422.70" y1="365.00" x2="424.50" y2="365.00" stroke="#2c6aa0" stroke-width="0.6" />
<polyline points="396.70,356.50 423.60,361.90 476.40,381.60" fill="none" stroke="#2c6aa0" stroke-width="0.9"/>
<circle cx="396.70" cy="356.50" r="0.95" fill="#1f4f80"/>
<circle cx="423.60" cy="361.90" r="0.95" fill="#1f4f80"/>
<circle cx="476.40" cy="381.60" r="0.95" fill="#1f4f80"/>
<line x1="18.20" y1="325.00" x2="18.20" y2="413.60" stroke="#111" stroke-width="1.4" />
<path d="M13.6,328.2 L18.2,319.0 L22.8,328.2 L18.2,326.6 Z" fill="#111"/>
<line x1="17.50" y1="412.90" x2="492.00" y2="412.90" stroke="#111" stroke-width="1.4" />
<path d="M489.0,408.4 L498.8,412.9 L489.0,417.4 L490.8,412.9 Z" fill="#111"/>
<line x1="498.50" y1="325.00" x2="498.50" y2="413.60" stroke="#111" stroke-width="1.4" />
<path d="M493.9,328.2 L498.5,318.6 L503.1,328.2 L498.5,326.6 Z" fill="#111"/>
<text x="0" y="0" font-size="6.6" font-weight="bold" fill="#333" text-anchor="middle" textLength="25" lengthAdjust="spacingAndGlyphs" transform="translate(15.2,365.9) rotate(-90)">miRs ratio</text>
<text x="0" y="0" font-size="6.6" font-weight="bold" fill="#333" text-anchor="middle" textLength="40" lengthAdjust="spacingAndGlyphs" transform="translate(502.6,364.7) rotate(90)">WBC (×10<tspan font-size="4.6" dy="-1.8">3</tspan><tspan dy="1.8">/µL)</tspan></text>
<text x="24.6" y="423.0" font-size="7.0" font-weight="bold" fill="#333" textLength="11.5" lengthAdjust="spacingAndGlyphs">Days</text>
<line x1="198.50" y1="431.00" x2="208.00" y2="431.00" stroke="#5fb85f" stroke-width="1.1" />
<circle cx="203.25" cy="431.00" r="1.8" fill="#3f9a3f"/>
<text x="212.50" y="433.30" font-size="6.5" text-anchor="start" font-weight="normal" fill="#333" style="stroke-width:0.1px">WBC</text>
<line x1="237.00" y1="431.00" x2="247.50" y2="431.00" stroke="#d42e4c" stroke-width="1.1" />
<circle cx="242.25" cy="431.00" r="1.8" fill="#b01c38"/>
<text x="249.50" y="433.30" font-size="6.5" text-anchor="start" font-weight="normal" fill="#333" style="stroke-width:0.1px">miR-181a</text>
<line x1="283.00" y1="431.00" x2="294.00" y2="431.00" stroke="#2c6aa0" stroke-width="1.1" />
<circle cx="288.50" cy="431.00" r="1.8" fill="#1f4f80"/>
<text x="296.80" y="433.30" font-size="6.5" text-anchor="start" font-weight="normal" fill="#333" style="stroke-width:0.1px">miR-181b</text>
<text x="110.20" y="458.80" font-size="11" text-anchor="start" font-weight="bold" fill="#111" >C</text>
<text x="210.00" y="459.00" font-size="7.8" text-anchor="middle" font-weight="normal" fill="#1a1a1a" >miR-181a</text>
<line x1="162.70" y1="463.30" x2="162.70" y2="533.90" stroke="#1a1a1a" stroke-width="1.2" />
<line x1="162.70" y1="533.30" x2="257.10" y2="533.30" stroke="#1a1a1a" stroke-width="1.2" />
<line x1="160.10" y1="465.80" x2="162.70" y2="465.80" stroke="#1a1a1a" stroke-width="0.9" />
<text x="157.60" y="468.00" font-size="6.2" text-anchor="end" font-weight="normal" fill="#2a2a2a" >0.006</text>
<line x1="160.10" y1="488.30" x2="162.70" y2="488.30" stroke="#1a1a1a" stroke-width="0.9" />
<text x="157.60" y="490.50" font-size="6.2" text-anchor="end" font-weight="normal" fill="#2a2a2a" >0.004</text>
<line x1="160.10" y1="511.00" x2="162.70" y2="511.00" stroke="#1a1a1a" stroke-width="0.9" />
<text x="157.60" y="513.20" font-size="6.2" text-anchor="end" font-weight="normal" fill="#2a2a2a" >0.002</text>
<line x1="160.10" y1="533.40" x2="162.70" y2="533.40" stroke="#1a1a1a" stroke-width="0.9" />
<text x="157.60" y="535.60" font-size="6.2" text-anchor="end" font-weight="normal" fill="#2a2a2a" >0.000</text>
<text x="0" y="0" font-size="7.2" font-weight="bold" fill="#333" style="stroke-width:0.1px" text-anchor="middle" textLength="69" lengthAdjust="spacingAndGlyphs" transform="translate(128.4,497.9) rotate(-90)">miR-181a relative expression</text>
<text x="0" y="0" font-size="7.2" font-weight="bold" fill="#333" style="stroke-width:0.1px" text-anchor="middle" textLength="56" lengthAdjust="spacingAndGlyphs" transform="translate(137.3,496.9) rotate(-90)">(normalized on RNU44)</text>
<line x1="176.50" y1="474.20" x2="201.50" y2="474.20" stroke="#1a1a1a" stroke-width="1.0" />
<line x1="176.50" y1="474.20" x2="176.50" y2="476.20" stroke="#1a1a1a" stroke-width="0.9" />
<line x1="201.50" y1="474.20" x2="201.50" y2="476.20" stroke="#1a1a1a" stroke-width="0.9" />
<text x="189.00" y="473.20" font-size="5.5" text-anchor="middle" font-weight="normal" fill="#333" >*</text>
<line x1="175.50" y1="533.00" x2="198.70" y2="479.20" stroke="#f5a01e" stroke-width="1.2" />
<circle cx="198.70" cy="479.20" r="1.0" fill="#e88a00"/>
<line x1="175.50" y1="533.00" x2="198.70" y2="522.90" stroke="#f5a01e" stroke-width="1.2" />
<circle cx="198.70" cy="522.90" r="1.0" fill="#e88a00"/>
<line x1="175.50" y1="533.00" x2="198.70" y2="524.50" stroke="#f5a01e" stroke-width="1.2" />
<circle cx="198.70" cy="524.50" r="1.0" fill="#e88a00"/>
<line x1="175.50" y1="533.00" x2="198.70" y2="526.00" stroke="#f5a01e" stroke-width="1.2" />
<circle cx="198.70" cy="526.00" r="1.0" fill="#e88a00"/>
<line x1="175.50" y1="533.00" x2="198.70" y2="527.50" stroke="#f5a01e" stroke-width="1.2" />
<circle cx="198.70" cy="527.50" r="1.0" fill="#e88a00"/>
<line x1="175.50" y1="533.00" x2="198.70" y2="529.00" stroke="#f5a01e" stroke-width="1.2" />
<circle cx="198.70" cy="529.00" r="1.0" fill="#e88a00"/>
<line x1="175.50" y1="533.00" x2="198.70" y2="530.50" stroke="#f5a01e" stroke-width="1.2" />
<circle cx="198.70" cy="530.50" r="1.0" fill="#e88a00"/>
<line x1="175.50" y1="533.00" x2="198.70" y2="532.00" stroke="#f5a01e" stroke-width="1.2" />
<circle cx="198.70" cy="532.00" r="1.0" fill="#e88a00"/>
<circle cx="175.50" cy="533.00" r="1.1" fill="#e88a00"/>
<line x1="221.50" y1="527.90" x2="245.00" y2="531.70" stroke="#8c86cc" stroke-width="1.0" />
<circle cx="221.50" cy="527.90" r="1.1" fill="#8c86cc"/>
<circle cx="245.00" cy="531.70" r="1.1" fill="#8c86cc"/>
<line x1="221.50" y1="531.50" x2="245.00" y2="526.00" stroke="#8c86cc" stroke-width="1.0" />
<circle cx="221.50" cy="531.50" r="1.1" fill="#8c86cc"/>
<circle cx="245.00" cy="526.00" r="1.1" fill="#8c86cc"/>
<line x1="221.50" y1="533.00" x2="245.00" y2="533.00" stroke="#8c86cc" stroke-width="1.0" />
<circle cx="221.50" cy="533.00" r="1.1" fill="#8c86cc"/>
<circle cx="245.00" cy="533.00" r="1.1" fill="#8c86cc"/>
<line x1="175.50" y1="533.30" x2="175.50" y2="535.80" stroke="#1a1a1a" stroke-width="0.9" />
<text x="0" y="0" font-size="6.2" fill="#222" text-anchor="end" transform="translate(176.70,542.00) rotate(-45)">WBC baseline</text>
<line x1="198.70" y1="533.30" x2="198.70" y2="535.80" stroke="#1a1a1a" stroke-width="0.9" />
<text x="0" y="0" font-size="6.2" fill="#222" text-anchor="end" transform="translate(199.90,542.00) rotate(-45)">WBC w/ properties</text>
<line x1="221.50" y1="533.30" x2="221.50" y2="535.80" stroke="#1a1a1a" stroke-width="0.9" />
<text x="0" y="0" font-size="6.2" fill="#222" text-anchor="end" transform="translate(222.70,542.00) rotate(-45)">WBC baseline</text>
<line x1="245.00" y1="533.30" x2="245.00" y2="535.80" stroke="#1a1a1a" stroke-width="0.9" />
<text x="0" y="0" font-size="6.2" fill="#222" text-anchor="end" transform="translate(246.20,542.00) rotate(-45)">WBC w/o properties</text>
<text x="361.00" y="459.00" font-size="7.8" text-anchor="middle" font-weight="normal" fill="#1a1a1a" >miR-181b</text>
<line x1="314.60" y1="463.30" x2="314.60" y2="533.90" stroke="#1a1a1a" stroke-width="1.2" />
<line x1="314.60" y1="533.30" x2="406.50" y2="533.30" stroke="#1a1a1a" stroke-width="1.2" />
<line x1="312.00" y1="465.80" x2="314.60" y2="465.80" stroke="#1a1a1a" stroke-width="0.9" />
<text x="308.80" y="468.00" font-size="6.2" text-anchor="end" font-weight="normal" fill="#2a2a2a" >0.015</text>
<line x1="312.00" y1="488.30" x2="314.60" y2="488.30" stroke="#1a1a1a" stroke-width="0.9" />
<text x="308.80" y="490.50" font-size="6.2" text-anchor="end" font-weight="normal" fill="#2a2a2a" >0.010</text>
<line x1="312.00" y1="511.00" x2="314.60" y2="511.00" stroke="#1a1a1a" stroke-width="0.9" />
<text x="308.80" y="513.20" font-size="6.2" text-anchor="end" font-weight="normal" fill="#2a2a2a" >0.005</text>
<line x1="312.00" y1="533.40" x2="314.60" y2="533.40" stroke="#1a1a1a" stroke-width="0.9" />
<text x="308.80" y="535.60" font-size="6.2" text-anchor="end" font-weight="normal" fill="#2a2a2a" >0.000</text>
<text x="0" y="0" font-size="7.2" font-weight="bold" fill="#333" style="stroke-width:0.1px" text-anchor="middle" textLength="69" lengthAdjust="spacingAndGlyphs" transform="translate(279.0,497.9) rotate(-90)">miR-181b relative expression</text>
<text x="0" y="0" font-size="7.2" font-weight="bold" fill="#333" style="stroke-width:0.1px" text-anchor="middle" textLength="56" lengthAdjust="spacingAndGlyphs" transform="translate(287.9,496.9) rotate(-90)">(normalized on RNU44)</text>
<line x1="326.20" y1="474.20" x2="352.70" y2="474.20" stroke="#1a1a1a" stroke-width="1.0" />
<line x1="326.20" y1="474.20" x2="326.20" y2="476.20" stroke="#1a1a1a" stroke-width="0.9" />
<line x1="352.70" y1="474.20" x2="352.70" y2="476.20" stroke="#1a1a1a" stroke-width="0.9" />
<text x="339.45" y="473.20" font-size="5.5" text-anchor="middle" font-weight="normal" fill="#333" >*</text>
<line x1="325.80" y1="533.00" x2="348.80" y2="487.70" stroke="#f5a01e" stroke-width="1.2" />
<circle cx="348.80" cy="487.70" r="1.0" fill="#e88a00"/>
<line x1="325.80" y1="533.00" x2="348.80" y2="525.00" stroke="#f5a01e" stroke-width="1.2" />
<circle cx="348.80" cy="525.00" r="1.0" fill="#e88a00"/>
<line x1="325.80" y1="533.00" x2="348.80" y2="527.00" stroke="#f5a01e" stroke-width="1.2" />
<circle cx="348.80" cy="527.00" r="1.0" fill="#e88a00"/>
<line x1="325.80" y1="533.00" x2="348.80" y2="528.80" stroke="#f5a01e" stroke-width="1.2" />
<circle cx="348.80" cy="528.80" r="1.0" fill="#e88a00"/>
<circle cx="325.80" cy="533.00" r="1.1" fill="#e88a00"/>
<line x1="371.90" y1="529.80" x2="395.00" y2="531.70" stroke="#8c86cc" stroke-width="1.0" />
<circle cx="371.90" cy="529.80" r="1.1" fill="#8c86cc"/>
<circle cx="395.00" cy="531.70" r="1.1" fill="#8c86cc"/>
<line x1="371.90" y1="531.00" x2="395.00" y2="529.80" stroke="#8c86cc" stroke-width="1.0" />
<circle cx="371.90" cy="531.00" r="1.1" fill="#8c86cc"/>
<circle cx="395.00" cy="529.80" r="1.1" fill="#8c86cc"/>
<line x1="371.90" y1="533.00" x2="395.00" y2="533.00" stroke="#8c86cc" stroke-width="1.0" />
<circle cx="371.90" cy="533.00" r="1.1" fill="#8c86cc"/>
<circle cx="395.00" cy="533.00" r="1.1" fill="#8c86cc"/>
<line x1="325.80" y1="533.30" x2="325.80" y2="535.80" stroke="#1a1a1a" stroke-width="0.9" />
<text x="0" y="0" font-size="6.2" fill="#222" text-anchor="end" transform="translate(327.00,542.00) rotate(-45)">WBC baseline</text>
<line x1="348.80" y1="533.30" x2="348.80" y2="535.80" stroke="#1a1a1a" stroke-width="0.9" />
<text x="0" y="0" font-size="6.2" fill="#222" text-anchor="end" transform="translate(350.00,542.00) rotate(-45)">WBC w/ properties</text>
<line x1="371.90" y1="533.30" x2="371.90" y2="535.80" stroke="#1a1a1a" stroke-width="0.9" />
<text x="0" y="0" font-size="6.2" fill="#222" text-anchor="end" transform="translate(373.10,542.00) rotate(-45)">WBC baseline</text>
<line x1="395.00" y1="533.30" x2="395.00" y2="535.80" stroke="#1a1a1a" stroke-width="0.9" />
<text x="0" y="0" font-size="6.2" fill="#222" text-anchor="end" transform="translate(396.20,542.00) rotate(-45)">WBC w/o properties</text>
<rect x="0.5" y="0.5" width="519" height="587" fill="none" stroke="#4a4a4a" stroke-width="1"/>
</svg>
</body></html>
